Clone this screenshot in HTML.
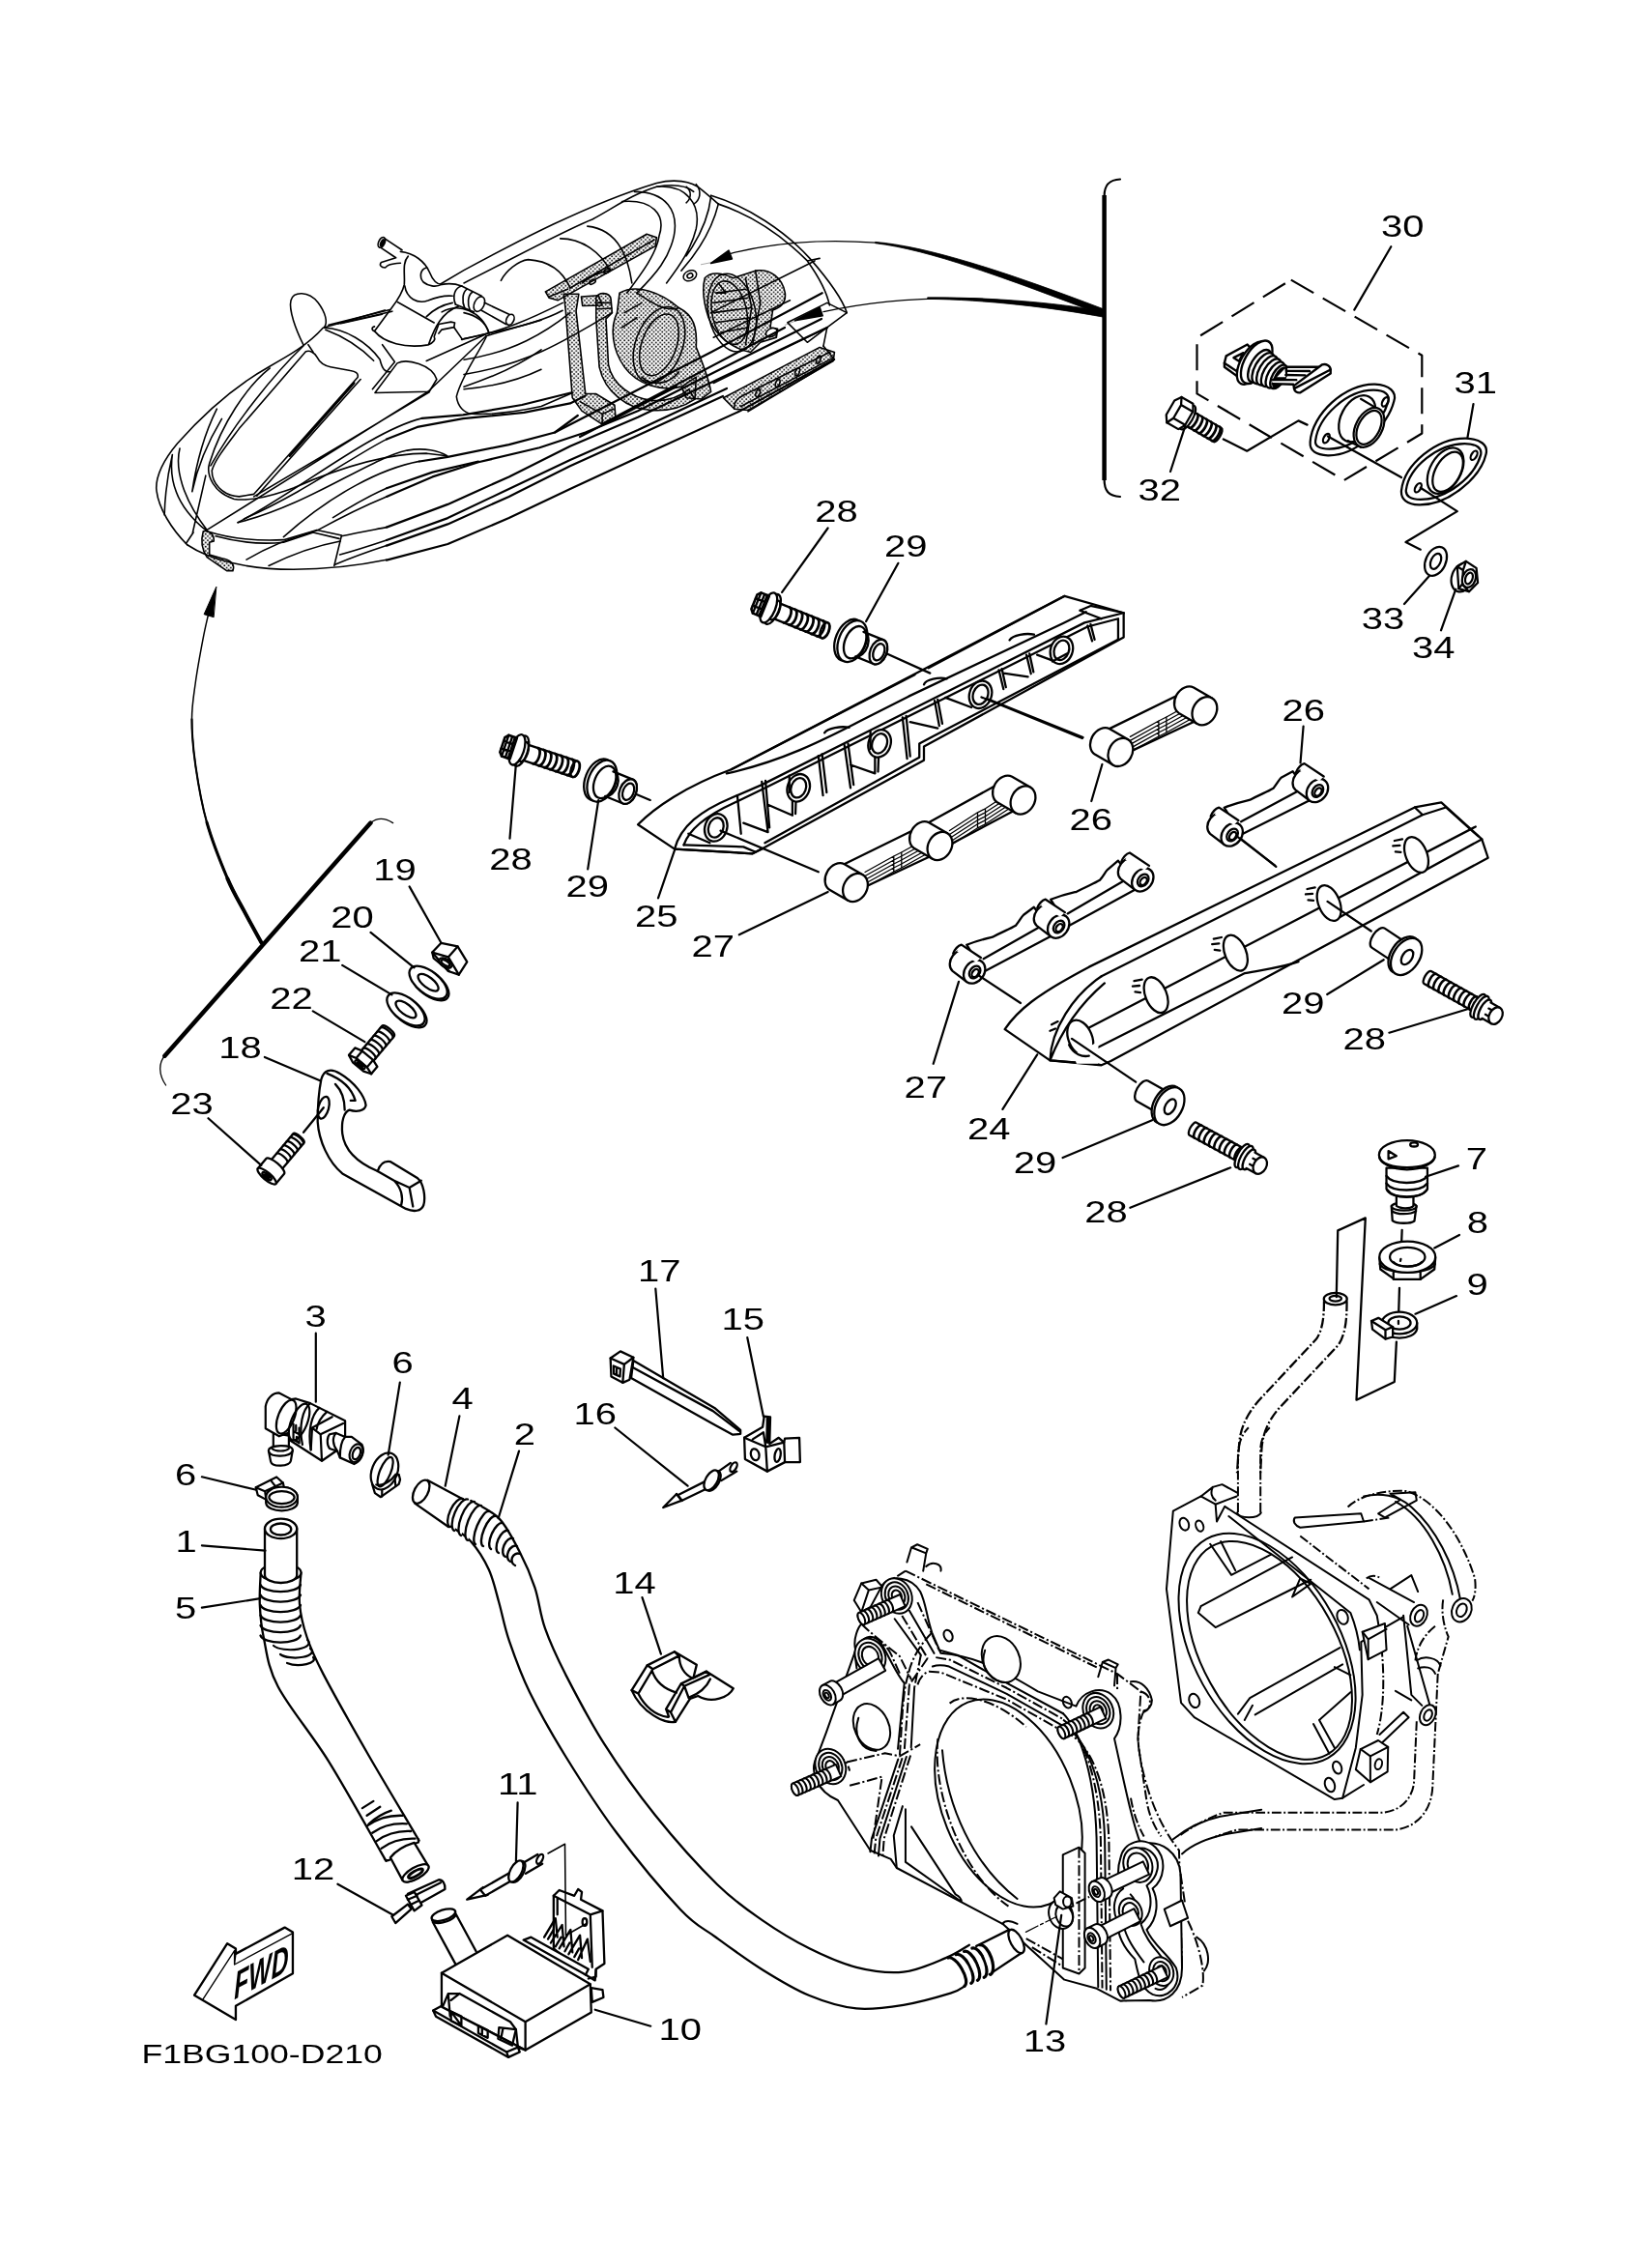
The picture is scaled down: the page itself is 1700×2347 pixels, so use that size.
<!DOCTYPE html>
<html><head><meta charset="utf-8"><title>F1BG100-D210</title>
<style>
html,body{margin:0;padding:0;background:#fff}
svg{display:block;filter:grayscale(1)}
svg text{font-family:"Liberation Sans",sans-serif;fill:#000;stroke:none}
.l{stroke-width:2.2}
.t{stroke-width:1.3}
.k{stroke-width:4.5}
.f{fill:#fff}
.b{fill:#000}
</style></head><body>
<svg width="1700" height="2347" viewBox="0 0 1700 2347" fill="none" stroke="#000" stroke-width="2.3" stroke-linecap="round" stroke-linejoin="round">
<rect x="0" y="0" width="1700" height="2347" fill="#fff" stroke="none"/>
<!-- watercraft front; zoom origin (140,280) scale 3.912 -->
<pattern id="dots" patternUnits="userSpaceOnUse" width="17" height="17"><rect x="1" y="1" width="6.3" height="6.3" fill="#000" stroke="none"/><rect x="9.5" y="9.5" width="6.3" height="6.3" fill="#000" stroke="none"/></pattern>
<g transform="translate(140,280) scale(0.25563)" stroke-width="6.2">
 <!-- bow outline -->
 <path d="M210,1110 C150,1050 90,960 85,880 C85,820 120,760 170,700 C250,610 380,480 540,390 C620,345 700,300 760,232 L1010,160"/>
 <path d="M118,990 C120,900 130,830 150,745 M150,745 C135,850 170,960 290,1055 M180,720 C160,800 190,920 290,1050 M205,1105 L235,1060 M285,830 L232,1062"/>
 <path d="M330,560 C290,640 250,760 230,895 C250,800 290,700 350,600"/>
 <path d="M545,395 C450,470 350,620 300,780 C285,830 320,900 400,925 C470,935 560,910 640,880 C800,810 1000,740 1180,740 L1262,750"/>
 <path d="M690,328 L420,640 C360,720 320,770 310,810 C310,860 350,910 420,915 L480,905 L900,432 C905,415 890,408 870,405 L790,390 C760,385 745,370 735,350 C725,330 705,322 690,328 Z"/>
 <path d="M680,305 C560,420 400,620 305,790 M700,300 L720,330 M912,440 L492,912" />
 <path stroke-width="10" d="M885,455 L625,750"/>
 <path d="M1420,265 L1185,490 L290,1050 M1190,492 L860,690 L480,915"/>
 <!-- mirror -->
 <path d="M680,300 C650,240 620,160 630,120 C640,85 700,80 740,130 C770,170 780,210 765,230"/>
 <!-- console -->
 <path d="M765,232 C850,235 940,290 990,360 C1000,400 1010,410 1030,410 M770,240 C850,270 920,320 965,365 M820,215 L1040,165 M1000,300 L1050,370 L960,480"/>
 <path d="M970,495 L1060,375 C1100,355 1200,380 1220,440 L1190,490 Z"/>
 <!-- spike / seat front -->
 <path d="M1420,270 C1380,350 1320,430 1300,510 C1305,550 1330,575 1360,580 C1450,585 1550,570 1643,550 L1772,494 M1330,470 C1450,430 1560,380 1643,320 M1330,480 C1450,470 1560,440 1643,400 M1420,265 L1643,200"/>
 <!-- sweeping body curves -->
 <path d="M415,1020 C650,900 950,650 1160,598"/>
 <path d="M440,1005 C680,900 900,740 1017,683"/>
 <path d="M415,1020 C700,950 950,760 1100,728 C1170,715 1230,730 1262,750"/>
 <path d="M600,1078 C800,900 1000,800 1150,772"/>
 <path d="M740,1050 C830,1000 920,955 1017,915 M800,1000 C880,950 950,910 1017,881"/>
 <path d="M835,1075 C900,1060 960,1050 1017,1039 M828,1150 C900,1130 960,1110 1017,1091 M808,1190 C880,1160 950,1135 1017,1113"/>
 <path d="M290,1055 C400,1090 500,1095 600,1090 L735,1050 L835,1072 L805,1195 M325,1075 C450,1110 550,1105 600,1100 L720,1060 L825,1085"/>
 <path d="M210,1110 C300,1170 450,1210 640,1210 C780,1210 900,1195 1017,1171"/>
 <path d="M450,1170 C550,1110 650,1075 735,1052 M540,1195 C650,1140 750,1110 830,1095"/>
 <!-- tow hook stipple -->
 <path fill="url(#dots)" d="M275,1055 C300,1050 320,1070 318,1095 L300,1100 L300,1150 L350,1165 C385,1170 405,1190 395,1215 L370,1215 L290,1160 C270,1130 265,1090 275,1055 Z"/>
</g>

<!-- watercraft rear; zoom origin (480,160) scale 3.912 -->
<g transform="translate(480,160) scale(0.25563)" stroke-width="6.2">
 <!-- deck outlines -->
 <path d="M-95,524 L0,468 C200,360 500,200 780,115 C850,98 920,105 960,140 C990,165 1020,190 1030,200"/>
 <path d="M0,520 C200,420 400,310 520,262 C600,220 680,160 780,130 C850,118 900,125 930,150"/>
 <path d="M1000,165 C1150,210 1300,310 1400,420 C1470,500 1530,580 1550,640 L1470,700 L1455,775"/>
 <path d="M1030,200 C1180,250 1300,340 1390,430 L1440,420 M1390,430 C1440,500 1470,560 1480,610"/>
 <path d="M940,120 C965,150 955,185 930,200 M900,130 C925,150 918,180 900,195"/>
 <!-- seat humps -->
 <path d="M150,510 C170,470 220,430 260,425 C340,430 400,470 430,540 M390,340 C480,340 560,400 590,470 M500,290 C600,300 660,380 680,520 M640,190 C760,180 820,240 790,330 C780,400 720,480 660,560 M690,150 C820,150 870,230 850,330 C830,420 780,480 700,560 M780,130 C900,120 960,200 940,300 C920,380 880,440 820,520 M1030,200 C1010,280 960,380 880,470 M1000,170 C990,260 950,340 900,410"/>
 <!-- deck lines left -->
 <path d="M0,745 C150,720 280,660 400,600 M0,830 C200,800 330,720 430,640 M0,890 C250,850 400,760 600,640 M0,640 C50,650 90,680 100,720"/>
 <path d="M1010,925 L1470,700 M1150,1040 L1500,830 L1455,775 M1000,640 L1420,430 M1010,740 L1320,590"/>
 <!-- rear box + arrows -->
 <path d="M1310,680 L1470,600 L1550,640 M1310,680 L1390,760 L1470,700"/>
 <path class="b" d="M1000,440 L1072,388 L1085,422 Z M1340,672 L1440,618 L1452,652 Z"/>
 <path class="t" d="M960,445 L1010,435 M1300,690 L1345,672"/>
 <!-- stippled parts -->
 <g fill="url(#dots)">
  <path d="M330,555 L740,322 L780,335 L775,370 L380,590 L345,580 Z"/>
  <path d="M404,564 L465,564 L454,633 L492,968 L534,968 L610,1014 L614,1064 L557,1090 L477,1037 L439,984 L412,633 Z"/>
  <path d="M475,575 L545,570 L560,610 L480,612 Z"/>
  <path d="M535,580 C540,555 590,555 595,585 L600,640 L575,665 L585,850 C600,930 680,985 760,995 C830,1000 880,975 910,950 L935,990 C890,1020 830,1040 760,1035 C660,1030 570,960 548,860 L535,665 Z"/>
  <path d="M630,560 C700,520 800,560 870,620 C930,650 945,700 940,780 C960,830 990,900 1000,960 L960,990 L900,985 L880,940 C800,960 700,930 650,860 C600,790 590,700 620,640 Z"/>
  <path d="M975,500 C1000,470 1050,480 1090,500 L1180,470 C1240,460 1290,500 1300,560 C1305,600 1280,620 1250,630 L1240,700 L1270,705 L1265,740 L1200,760 L1160,800 C1100,790 1020,740 990,660 C970,600 965,540 975,500 Z"/>
  <path d="M1050,985 L1440,780 L1500,800 L1495,835 L1150,1035 L1095,1030 Z"/>
 </g>
 <!-- details over stipple -->
 <path d="M430,540 L770,345 M345,575 L420,545 M480,520 C500,500 560,470 590,470"/>
 <ellipse cx="580" cy="470" rx="14" ry="8" transform="rotate(-30 580 470)"/>
 <ellipse cx="520" cy="515" rx="14" ry="8" transform="rotate(-30 520 515)"/>
 <path d="M540,600 L595,600 M540,625 L598,622"/>
 <ellipse cx="790" cy="770" rx="70" ry="130" transform="rotate(20 790 770)"/>
 <ellipse cx="790" cy="770" rx="95" ry="160" transform="rotate(20 790 770)"/>
 <path d="M700,560 C760,600 820,640 870,620 M650,640 L720,600 M640,700 L700,660 M880,940 L940,900 L935,990 M720,900 C760,940 830,930 870,880"/>
 <ellipse cx="1085" cy="640" rx="95" ry="160" transform="rotate(-12 1085 640)"/>
 <ellipse cx="1075" cy="640" rx="70" ry="130" transform="rotate(-12 1075 640)"/>
 <path d="M1020,560 L1140,545 M1010,600 L1150,580 M1010,640 L1160,620 M1020,680 L1160,660 M1040,720 L1150,700 M1030,520 L1060,560 L1030,560 M1180,470 L1200,600 L1170,760 M1140,500 L1165,620 L1140,770"/>
 <ellipse cx="915" cy="490" rx="28" ry="20" transform="rotate(-25 915 490)" class="f"/>
 <ellipse cx="915" cy="490" rx="12" ry="9" transform="rotate(-25 915 490)"/>
 <ellipse cx="1245" cy="720" rx="24" ry="16" transform="rotate(-25 1245 720)" class="f"/>
 <ellipse cx="1190" cy="965" rx="8" ry="16" transform="rotate(20 1190 965)"/>
 <ellipse cx="1270" cy="925" rx="8" ry="16" transform="rotate(20 1270 925)"/>
 <ellipse cx="1350" cy="880" rx="8" ry="16" transform="rotate(20 1350 880)"/>
 <ellipse cx="1435" cy="830" rx="8" ry="16" transform="rotate(20 1435 830)"/>
 <path d="M1095,1030 C1090,1000 1110,985 1130,975 L1480,800 M1120,1020 L1490,825"/>
 <path d="M470,1000 L560,1050 L605,1030 M560,1050 L560,1085"/>
</g>
<!-- callout curves to bracket -->
<path class="t" d="M755.3,262.6 C800,251 850,247 906,251.1 C960,256 1040,284 1141,322.7 M852,322.7 C900,312 950,308.3 995.6,308.6 C1050,310 1100,317 1141,325.3"/>
<g fill="#000" stroke-width="0.8">
<path d="M906,250.4 C960,255 1040,281 1141,319.5 L1141,326 C1040,287.5 960,258 906,251.8 Z"/>
<path d="M960,307.8 C1020,307.6 1090,312.5 1141,322 L1141,328 C1090,318.5 1020,310 960,309.4 Z"/>
</g>

<!-- long hull lines in source coords -->
<g class="l">
<path d="M400,579.6 L463.3,563 L526.6,536.1 L589.9,506 L660,473.6 L765.2,425.6 L863,372"/>
<path d="M400,564.6 L463.3,542.4 L526.6,513.9 L589.9,482.3 L660,450.6 L748,410"/>
<path d="M400,559 L463.3,536.1 L526.6,506 L589.9,476 L660,445.1 L752,402"/>
<path d="M400,545.6 L463.3,521.9 L526.6,493.4 L589.9,461.7 L660,431.7 L855.8,338.9"/>
<path d="M400,513.9 L447.5,493.4 L495,478.3 L558.3,463.3 L605.7,447.5 L660,425.3 L735.6,387 L850,330"/>
<path d="M400,505.2 L447.5,488.6 L495,477.5"/>
<path d="M434,477.5 L463.3,472.8 L526.6,460.1 L574.1,447.5 L597.8,430"/>
<path d="M400,454.6 L431.7,441.9 L479.1,433.2 L542.4,426.9 L589.9,417.4 L605.7,409.5"/>
<path d="M436.5,432.9 L479.1,429.3 L540,419 L591.5,406.3"/>
<path d="M574,447.5 L735.6,364.5 L850.7,303.2 M623,438.6 L812,339 M600,452 L700,400"/>
</g>

<!-- handlebar; zoom origin (340,220) scale 6.319 -->
<g transform="translate(340,220) scale(0.15825)" stroke-width="10.5">
 <path d="M360,165 L480,245 M335,225 L440,295 L345,325 C330,340 340,360 370,360 C385,345 395,335 470,330"/>
 <ellipse cx="347" cy="195" rx="20" ry="36" transform="rotate(25 347 195)" class="f"/>
 <ellipse cx="352" cy="198" rx="10" ry="24" transform="rotate(25 352 198)" class="b"/>
 <path d="M470,255 C560,265 630,320 660,390 C680,440 710,470 740,470 C790,460 830,465 870,480"/>
 <path d="M520,285 C480,330 500,400 495,470 C480,540 430,600 400,640 L300,775 C280,770 280,750 300,745"/>
 <path d="M640,360 C600,370 590,420 620,455 C650,480 700,490 740,470"/>
 <path d="M498,480 C510,560 580,600 650,575 C700,555 760,540 810,545"/>
 <path d="M450,585 L690,720 M300,775 C360,850 500,890 650,865 C690,850 700,830 690,810 L720,730 L800,715 L825,720 L820,750 L740,765 L720,790"/>
 <path d="M655,860 C690,760 740,650 850,612 M640,680 C700,620 760,600 810,590"/>
 <path d="M870,480 L1000,545 M830,600 L950,650" />
 <path d="M870,480 C830,490 805,540 830,600 M905,500 C875,520 870,580 890,625 M940,520 C910,540 905,600 925,640"/>
 <ellipse cx="985" cy="598" rx="32" ry="52" transform="rotate(25 985 598)" class="f"/>
 <path d="M1020,590 L1190,670 M1000,640 L1160,730"/>
 <ellipse cx="1187" cy="700" rx="24" ry="36" transform="rotate(25 1187 700)" class="f"/>
 <path d="M740,650 C850,590 1000,640 1050,790 M820,750 L875,830"/>
 <path d="M0,735 L400,635 M80,725 L350,665 M870,830 L1040,790 C1250,750 1420,700 1530,640 M640,970 L1040,790"/>
</g>

<!-- top-right assembly; coords from zoom origin (1100,170) scale 3.286 -->
<path class="k" stroke-linecap="butt" d="M1142.6,202 L1142.6,497"/>
<path class="l" d="M1159,185.5 C1147,186 1142.6,192 1142.6,203 M1142.6,496 C1142.6,508 1147,513.5 1159,514"/>
<path d="M1335.8,289.6 L1471.3,367.8 L1471.3,448.5 L1390.6,497 L1238.5,407.4 L1238.5,349.5 Z" stroke-dasharray="27 11" stroke-linecap="butt" class="l"/>
<g transform="translate(1100,170) scale(0.30432)" stroke-width="7.4">
 <!-- bolt 32 -->
 <g transform="translate(395,845) rotate(30)">
  <path class="f" d="M30,-27 L150,-27 A10,27 0 0 1 150,27 L30,27 Z"/>
  <path stroke-width="9" d="M55,-27 A10,27 0 0 1 55,27 M73,-27 A10,27 0 0 1 73,27 M91,-27 A10,27 0 0 1 91,27 M109,-27 A10,27 0 0 1 109,27 M127,-27 A10,27 0 0 1 127,27 M143,-27 A10,27 0 0 1 143,27"/>
  <ellipse cx="32" cy="0" rx="18" ry="46" class="f"/>
  <path class="f" d="M-35,-28 L-20,-50 L25,-50 L38,-28 L38,28 L25,50 L-20,50 L-35,28 Z"/>
  <path d="M-20,-50 L-8,-26 L-8,26 L-20,50 M-8,-26 L38,-26 M-8,26 L38,26"/>
 </g>
 <path d="M545,935 L625,975 L800,872 L830,886"/>
 <!-- flange -->
 <path class="f" d="M840,945 C845,850 960,745 1060,748 C1110,750 1135,775 1125,805 C1105,885 1000,992 900,990 C860,988 838,975 840,945 Z"/>
 <path d="M858,940 C868,858 965,768 1055,768 C1095,768 1112,785 1105,808 C1085,880 995,968 905,968 C872,968 855,958 858,940 Z"/>
 <ellipse cx="1000" cy="865" rx="55" ry="85" transform="rotate(28 1000 865)"/>
 <path class="f" d="M995,940 L1040,965 L1085,850 L1045,822 Z" stroke="none"/>
 <ellipse cx="1040" cy="895" rx="45" ry="72" transform="rotate(28 1040 895)" class="f"/>
 <ellipse cx="1040" cy="895" rx="36" ry="62" transform="rotate(28 1040 895)"/>
 <path d="M1012,798 L1060,826 M968,940 L1012,962"/>
 <ellipse cx="895" cy="932" rx="9" ry="17" transform="rotate(28 895 932)"/>
 <ellipse cx="1095" cy="808" rx="9" ry="17" transform="rotate(28 1095 808)"/>
 <path d="M900,925 L1150,1065"/>
 <!-- gasket 31 -->
 <path class="f" d="M1150,1110 C1160,1020 1270,930 1370,932 C1420,934 1445,955 1438,985 C1420,1065 1310,1160 1210,1158 C1170,1156 1148,1140 1150,1110 Z"/>
 <path d="M1166,1108 C1176,1030 1275,950 1365,950 C1405,950 1425,965 1420,988 C1400,1060 1305,1140 1215,1140 C1182,1140 1164,1128 1166,1108 Z"/>
 <ellipse cx="1300" cy="1042" rx="52" ry="85" transform="rotate(30 1300 1042)"/>
 <ellipse cx="1308" cy="1046" rx="42" ry="74" transform="rotate(30 1308 1046)"/>
 <ellipse cx="1207" cy="1100" rx="9" ry="17" transform="rotate(30 1207 1100)"/>
 <ellipse cx="1397" cy="990" rx="9" ry="17" transform="rotate(30 1397 990)"/>
 <path d="M1215,1100 L1340,1180 L1165,1285 L1215,1310"/>
 <!-- washer 33 -->
 <ellipse cx="1267" cy="1350" rx="34" ry="52" transform="rotate(25 1267 1350)" class="f"/>
 <ellipse cx="1267" cy="1350" rx="16" ry="28" transform="rotate(25 1267 1350)"/>
 <!-- nut 34 -->
 <g transform="translate(1365,1408)">
  <ellipse cx="-8" cy="0" rx="36" ry="50" transform="rotate(20)" class="f"/>
  <path class="f" d="M-25,-40 L5,-58 L40,-35 L45,15 L15,45 L-20,35 Z"/>
  <path d="M-25,-40 L-5,-28 L5,-58 M-5,-28 L-8,20 L-20,35 M-8,20 L15,45"/>
  <ellipse cx="15" cy="0" rx="22" ry="32" transform="rotate(20 15 0)" class="f"/>
  <ellipse cx="15" cy="0" rx="12" ry="20" transform="rotate(20 15 0)"/>
 </g>
</g>

<!-- drain plug; zoom origin (1250,330) scale 10.953 -->
<g transform="translate(1250,330) scale(0.0913)" stroke-width="26">
 <path class="f" d="M185,500 L205,420 L445,290 L480,330 L350,560 L330,650 L185,545 Z"/>
 <path d="M290,440 L400,385 L350,480 Z M185,500 L320,590 L350,560"/>
 <ellipse cx="505" cy="500" rx="135" ry="270" transform="rotate(30 505 500)" class="f"/>
 <ellipse cx="550" cy="490" rx="135" ry="270" transform="rotate(30 550 490)" class="f"/>
 <ellipse cx="585" cy="535" rx="100" ry="205" transform="rotate(30 585 535)" class="f"/>
 <ellipse cx="625" cy="560" rx="95" ry="195" transform="rotate(30 625 560)" class="f"/>
 <ellipse cx="670" cy="585" rx="90" ry="185" transform="rotate(30 670 585)" class="f"/>
 <ellipse cx="715" cy="610" rx="85" ry="175" transform="rotate(30 715 610)" class="f"/>
 <ellipse cx="760" cy="635" rx="80" ry="165" transform="rotate(30 760 635)" class="f"/>
 <ellipse cx="800" cy="655" rx="70" ry="150" transform="rotate(30 800 655)" class="f"/>
 <ellipse cx="815" cy="665" rx="52" ry="125" transform="rotate(30 815 665)" fill="#000"/>
 <path class="f" stroke="none" d="M780,660 L870,565 L880,660 Z"/>
 <path class="f" d="M900,545 L1260,545 L1000,700 L730,690 L730,735 L960,745 L975,775 L900,640 Z" stroke="none"/>
 <path d="M900,545 L1250,545 M895,590 L1150,592 M880,635 L1100,640 M735,690 L1000,692 M730,735 L965,742"/>
 <path class="f" d="M1290,520 C1340,505 1385,530 1388,575 L1388,620 L1045,835 C1010,840 980,825 975,790 L970,760 Z"/>
 <path d="M975,790 L1388,575"/>
</g>

<!-- rail 25; coords zoom origin (630,570) scale 3.1596 -->
<g transform="translate(630,570) scale(0.31649)" stroke-width="7.2">
 <!-- body fill -->
 <path class="f" d="M95,895 C150,840 250,770 400,715 L1490,148 L1683,203 L1683,283 L1030,640 L1030,685 L500,975 L470,990 L215,975 Z"/>
 <!-- crease on top face -->
 <path d="M385,728 C560,690 700,620 830,552 L980,476 L1485,237 L1560,200"/>
 <path d="M400,715 L1000,405 M1045,383 L1490,148"/>
 <!-- tabs -->
 <path d="M705,595 C715,580 760,572 785,578 M1030,437 C1035,420 1080,412 1105,418 M1310,292 C1320,275 1365,268 1390,274 M1180,880 "/>
 <!-- front-top edge (double) -->
 <path d="M215,975 C235,900 300,850 400,808 L500,765 L1555,235 L1683,203"/>
 <path d="M245,962 C262,910 320,865 410,824 L510,776 L1565,248 L1665,222 L1665,290"/>
 <path d="M1540,195 L1575,180 L1683,203 M1540,195 L1610,222"/>
 <!-- bottom edge (double) -->
 <path d="M510,955 L1015,675 L1015,630 L1665,290"/>
 <path d="M215,975 L470,990 L500,975 M245,962 L440,968 L480,985"/>
 <path d="M260,925 L330,955"/>
 <!-- ribs -->
 <path d="M420,800 L432,925 M500,755 L520,920 M512,752 L525,905 M440,890 L520,920
  M685,670 L700,800 M697,665 L712,790 M770,635 L790,775 M782,630 L800,765
  M520,830 L600,865 L600,800 M610,860 L612,800
  M790,700 L870,728 L870,670 M880,722 L882,668
  M960,545 L975,680 M972,540 L985,672 M1065,490 L1080,572 M1075,486 L1090,565
  M985,560 L1075,580 M1100,480 L1185,512
  M1275,390 L1290,452 M1285,386 L1298,446 M1365,340 L1380,402 M1375,336 L1388,396
  M1290,400 L1370,412 M1400,340 L1460,362
  M1565,245 L1580,295 M1575,240 L1588,290"/>
 <!-- bosses -->
 <g class="f">
 <ellipse cx="350" cy="905" rx="36" ry="46" transform="rotate(20 350 905)"/>
 <ellipse cx="620" cy="775" rx="36" ry="46" transform="rotate(20 620 775)"/>
 <ellipse cx="885" cy="630" rx="36" ry="46" transform="rotate(20 885 630)"/>
 <ellipse cx="1215" cy="470" rx="36" ry="46" transform="rotate(20 1215 470)"/>
 <ellipse cx="1480" cy="325" rx="36" ry="46" transform="rotate(20 1480 325)"/>
 </g>
 <ellipse cx="350" cy="905" rx="24" ry="33" transform="rotate(20 350 905)"/>
 <ellipse cx="620" cy="775" rx="24" ry="33" transform="rotate(20 620 775)"/>
 <ellipse cx="885" cy="630" rx="24" ry="33" transform="rotate(20 885 630)"/>
 <ellipse cx="1215" cy="470" rx="24" ry="33" transform="rotate(20 1215 470)"/>
 <ellipse cx="1480" cy="325" rx="24" ry="33" transform="rotate(20 1480 325)"/>
 <path d="M590,735 L590,790 M855,590 L855,648 M1450,362 L1500,335"/>
 <!-- leader lines from bosses -->
 <path d="M895,330 L1050,400 M1240,485 L1550,610 M365,915 L685,1050 M75,790 L135,815"/>
</g>

<!-- rail 24; zoom origin (1030,820) scale 3.1 -->
<g transform="translate(1030,820) scale(0.32258)" stroke-width="7.1">
 <path class="f" d="M30,760 C70,700 130,650 300,560 L1345,48 L1430,32 L1560,150 L1580,210 L370,862 L340,875 L175,860 Z"/>
 <path d="M340,590 L1370,72 L1445,48 M1345,48 L1370,72 M1445,48 L1548,140"/>
 <path d="M300,755 L1540,110"/>
 <path d="M320,822 L800,580 C860,568 920,562 972,543"/>
 <path d="M1105,400 L1560,150"/>
 <path d="M175,860 C178,760 250,650 340,590 M175,860 C210,770 270,680 350,612 M178,860 L330,872"/>
 <ellipse cx="272" cy="788" rx="38" ry="60" transform="rotate(-22 272 788)" class="f"/>
 <path class="f" stroke="none" d="M250,840 L330,800 L330,870 L260,870 Z"/>
 <path d="M236,810 C250,840 280,850 300,845"/>
 <g class="f">
 <ellipse cx="515" cy="650" rx="34" ry="60" transform="rotate(-22 515 650)"/>
 <ellipse cx="770" cy="515" rx="34" ry="60" transform="rotate(-22 770 515)"/>
 <ellipse cx="1070" cy="355" rx="34" ry="60" transform="rotate(-22 1070 355)"/>
 <ellipse cx="1350" cy="200" rx="34" ry="60" transform="rotate(-22 1350 200)"/>
 </g>
 <path d="M445,605 L470,600 M440,622 L462,620 M448,640 L465,642 M700,470 L725,465 M695,487 L717,485 M703,505 L720,507 M1000,310 L1025,305 M995,327 L1017,325 M1003,345 L1020,347 M1280,155 L1305,150 M1275,172 L1297,170 M1283,190 L1300,192 M180,745 L200,735 M175,765 L192,758"/>
 <path d="M1065,350 L1205,445 M245,790 L450,929 M770,135 L900,238"/>
</g>

<g transform="translate(779.5,622.5) rotate(22.0)">
<path class="f" d="M22,-8.5 L80.1,-8.5 A4,8.5 0 0 1 80.1,8.5 L22,8.5 Z"/>
<ellipse cx="79.6" cy="0" rx="4" ry="8.5" class="f"/>
<path stroke-width="2.8" d="M37.0,-8.5 A4,8.5 0 0 1 37.0,8.5M43.2,-8.5 A4,8.5 0 0 1 43.2,8.5M49.4,-8.5 A4,8.5 0 0 1 49.4,8.5M55.6,-8.5 A4,8.5 0 0 1 55.6,8.5M61.8,-8.5 A4,8.5 0 0 1 61.8,8.5M68.0,-8.5 A4,8.5 0 0 1 68.0,8.5M74.2,-8.5 A4,8.5 0 0 1 74.2,8.5"/>
<ellipse cx="21" cy="0" rx="7" ry="16.4" class="f"/>
<ellipse cx="24" cy="0" rx="4.5" ry="10.5"/>
<ellipse cx="17" cy="0" rx="7" ry="16.4" class="f"/>
<path class="f" stroke-width="2.6" d="M1,-8 L4,-11.5 L13,-11.5 L13,11.5 L4,11.5 L1,8 Z"/>
<path stroke-width="2.4" d="M4,-11.5 L4,11.5 M1,-4 L11,-4 M1,4 L11,4 M8,-11 L8,11 M11,-11.5 L11,11.5"/>
</g>
<g transform="translate(518.9,770.4) rotate(18.5)">
<path class="f" d="M22,-8.5 L80.7,-8.5 A4,8.5 0 0 1 80.7,8.5 L22,8.5 Z"/>
<ellipse cx="80.2" cy="0" rx="4" ry="8.5" class="f"/>
<path stroke-width="2.8" d="M37.0,-8.5 A4,8.5 0 0 1 37.0,8.5M43.2,-8.5 A4,8.5 0 0 1 43.2,8.5M49.4,-8.5 A4,8.5 0 0 1 49.4,8.5M55.6,-8.5 A4,8.5 0 0 1 55.6,8.5M61.8,-8.5 A4,8.5 0 0 1 61.8,8.5M68.0,-8.5 A4,8.5 0 0 1 68.0,8.5M74.2,-8.5 A4,8.5 0 0 1 74.2,8.5"/>
<ellipse cx="21" cy="0" rx="7" ry="16.4" class="f"/>
<ellipse cx="24" cy="0" rx="4.5" ry="10.5"/>
<ellipse cx="17" cy="0" rx="7" ry="16.4" class="f"/>
<path class="f" stroke-width="2.6" d="M1,-8 L4,-11.5 L13,-11.5 L13,11.5 L4,11.5 L1,8 Z"/>
<path stroke-width="2.4" d="M4,-11.5 L4,11.5 M1,-4 L11,-4 M1,4 L11,4 M8,-11 L8,11 M11,-11.5 L11,11.5"/>
</g>
<g transform="translate(1231.7,1166.8) rotate(28.6)">
<path class="f" d="M3,-7.5 L62.1,-7.5 L62.1,7.5 L3,7.5 A3,7.5 0 0 1 3,-7.5 Z"/>
<path stroke-width="2.6" d="M9.0,-7.5 A3,7.5 0 0 0 9.0,7.5M15.0,-7.5 A3,7.5 0 0 0 15.0,7.5M21.0,-7.5 A3,7.5 0 0 0 21.0,7.5M27.0,-7.5 A3,7.5 0 0 0 27.0,7.5M33.0,-7.5 A3,7.5 0 0 0 33.0,7.5M39.0,-7.5 A3,7.5 0 0 0 39.0,7.5M45.0,-7.5 A3,7.5 0 0 0 45.0,7.5M51.0,-7.5 A3,7.5 0 0 0 51.0,7.5M57.0,-7.5 A3,7.5 0 0 0 57.0,7.5"/>
<ellipse cx="61.1" cy="0" rx="5" ry="13.5" class="f"/>
<ellipse cx="65.1" cy="0" rx="5" ry="13.5" class="f"/>
<ellipse cx="69.1" cy="0" rx="4.5" ry="11.5" class="f" stroke-width="2.4"/>
<path class="f" d="M70.1,-9.3 L82.1,-9.3 L82.1,9.3 L70.1,9.3 Z" stroke="none"/>
<path d="M71.1,-9.3 L82.1,-9.3 M71.1,9.3 L82.1,9.3 M72.1,-3 L77.1,-3 M72.1,4 L77.1,4"/>
<ellipse cx="82.1" cy="0" rx="6.5" ry="9.3" class="f"/>
</g>
<g transform="translate(1474.5,1010.1) rotate(29.3)">
<path class="f" d="M3,-7.5 L63.8,-7.5 L63.8,7.5 L3,7.5 A3,7.5 0 0 1 3,-7.5 Z"/>
<path stroke-width="2.6" d="M9.0,-7.5 A3,7.5 0 0 0 9.0,7.5M15.0,-7.5 A3,7.5 0 0 0 15.0,7.5M21.0,-7.5 A3,7.5 0 0 0 21.0,7.5M27.0,-7.5 A3,7.5 0 0 0 27.0,7.5M33.0,-7.5 A3,7.5 0 0 0 33.0,7.5M39.0,-7.5 A3,7.5 0 0 0 39.0,7.5M45.0,-7.5 A3,7.5 0 0 0 45.0,7.5M51.0,-7.5 A3,7.5 0 0 0 51.0,7.5M57.0,-7.5 A3,7.5 0 0 0 57.0,7.5"/>
<ellipse cx="62.8" cy="0" rx="5" ry="13.5" class="f"/>
<ellipse cx="66.8" cy="0" rx="5" ry="13.5" class="f"/>
<ellipse cx="70.8" cy="0" rx="4.5" ry="11.5" class="f" stroke-width="2.4"/>
<path class="f" d="M71.8,-9.3 L83.8,-9.3 L83.8,9.3 L71.8,9.3 Z" stroke="none"/>
<path d="M72.8,-9.3 L83.8,-9.3 M72.8,9.3 L83.8,9.3 M73.8,-3 L78.8,-3 M73.8,4 L78.8,4"/>
<ellipse cx="83.8" cy="0" rx="6.5" ry="9.3" class="f"/>
</g>
<g transform="translate(881.9,663.6) rotate(22.2)">
<ellipse cx="-3.5" cy="0" rx="14" ry="22.5" class="f"/>
<ellipse cx="0" cy="0" rx="14" ry="22.5" class="f"/>
<ellipse cx="3" cy="0" rx="10.5" ry="17.5"/>
<path class="f" d="M7,-13.4 L29.1,-13.4 A8.5,13.4 0 0 1 29.1,13.4 L9,13.4 A8.5,13.4 0 0 0 7,-13.4 Z"/>
<ellipse cx="29.1" cy="0" rx="8.5" ry="13.4" class="f"/>
<ellipse cx="29.6" cy="0" rx="5.5" ry="9"/>
</g>
<g transform="translate(622.9,808.2) rotate(22.1)">
<ellipse cx="-3.5" cy="0" rx="14" ry="22.5" class="f"/>
<ellipse cx="0" cy="0" rx="14" ry="22.5" class="f"/>
<ellipse cx="3" cy="0" rx="10.5" ry="17.5"/>
<path class="f" d="M7,-13.4 L28.9,-13.4 A8.5,13.4 0 0 1 28.9,13.4 L9,13.4 A8.5,13.4 0 0 0 7,-13.4 Z"/>
<ellipse cx="28.9" cy="0" rx="8.5" ry="13.4" class="f"/>
<ellipse cx="29.4" cy="0" rx="5.5" ry="9"/>
</g>
<g transform="translate(1182.0,1129.0) rotate(29.4)">
<path class="f" d="M0,-12 A6,12 0 0 0 0,12 L31.0,12 L31.0,-12 Z"/>
<ellipse cx="29.0" cy="0" rx="13.5" ry="21" class="f"/>
<ellipse cx="32.0" cy="0" rx="13.5" ry="21" class="f"/>
<ellipse cx="33.0" cy="0" rx="5" ry="8.5"/>
</g>
<g transform="translate(1426.0,970.6) rotate(33.6)">
<path class="f" d="M0,-12 A6,12 0 0 0 0,12 L34.0,12 L34.0,-12 Z"/>
<ellipse cx="32.0" cy="0" rx="13.5" ry="21" class="f"/>
<ellipse cx="35.0" cy="0" rx="13.5" ry="21" class="f"/>
<ellipse cx="36.0" cy="0" rx="5" ry="8.5"/>
</g>
<path class="f" d="M871.0,895.5 L958.5,852.5 L972.5,861.5 L972.5,881.5 L885.0,922.5 L885.0,904.5 Z"/>
<path class="t" d="M895.0,902.5 L924.8,886.0 L932.8,882.0 L962.5,865.5M895.0,906.5 L924.8,890.0 L932.8,886.0 L962.5,869.5M895.0,910.5 L924.8,894.0 L932.8,890.0 L962.5,873.5M895.0,914.5 L924.8,898.0 L932.8,894.0 L962.5,877.5M895.0,918.5 L924.8,902.0 L932.8,898.0 L962.5,881.5M924.8,886.0 L924.8,902.0 M932.8,882.0 L932.8,898.0"/>
<path class="f" d="M958.5,852.5 L1044.5,805.0 L1058.5,814.0 L1058.5,834.0 L972.5,879.5 L972.5,861.5 Z"/>
<path class="t" d="M982.5,859.5 L1011.5,840.8 L1019.5,836.8 L1048.5,818.0M982.5,863.5 L1011.5,844.8 L1019.5,840.8 L1048.5,822.0M982.5,867.5 L1011.5,848.8 L1019.5,844.8 L1048.5,826.0M982.5,871.5 L1011.5,852.8 L1019.5,848.8 L1048.5,830.0M982.5,875.5 L1011.5,856.8 L1019.5,852.8 L1048.5,834.0M1011.5,840.8 L1011.5,856.8 M1019.5,836.8 L1019.5,852.8"/>
<path class="f" d="M858.3,920.7 L877.3,931.7 L892.7,905.3 L873.7,894.3 A12,15.3 30.1 0 0 858.3,920.7 Z"/>
<ellipse cx="885.0" cy="918.5" rx="12" ry="15.3" transform="rotate(30.1 885.0 918.5)" class="f"/>
<path class="f" d="M945.8,877.7 L964.8,888.7 L980.2,862.3 L961.2,851.3 A12,15.3 30.1 0 0 945.8,877.7 Z"/>
<ellipse cx="972.5" cy="875.5" rx="12" ry="15.3" transform="rotate(30.1 972.5 875.5)" class="f"/>
<path class="f" d="M1031.8,830.2 L1050.8,841.2 L1066.2,814.8 L1047.2,803.8 A12,15.3 30.1 0 0 1031.8,830.2 Z"/>
<ellipse cx="1058.5" cy="828.0" rx="12" ry="15.3" transform="rotate(30.1 1058.5 828.0)" class="f"/>
<path class="f" d="M1145.4,755.4 L1232.4,712.7 L1246.4,721.7 L1246.4,741.7 L1159.4,782.4 L1159.4,764.4 Z"/>
<path class="t" d="M1169.4,762.4 L1198.9,746.0 L1206.9,742.0 L1236.4,725.7M1169.4,766.4 L1198.9,750.0 L1206.9,746.0 L1236.4,729.7M1169.4,770.4 L1198.9,754.0 L1206.9,750.0 L1236.4,733.7M1169.4,774.4 L1198.9,758.0 L1206.9,754.0 L1236.4,737.7M1169.4,778.4 L1198.9,762.0 L1206.9,758.0 L1236.4,741.7M1198.9,746.0 L1198.9,762.0 M1206.9,742.0 L1206.9,758.0"/>
<path class="f" d="M1132.7,780.6 L1151.7,791.6 L1167.1,765.2 L1148.1,754.2 A12,15.3 30.1 0 0 1132.7,780.6 Z"/>
<ellipse cx="1159.4" cy="778.4" rx="12" ry="15.3" transform="rotate(30.1 1159.4 778.4)" class="f"/>
<path class="f" d="M1219.7,737.9 L1238.7,748.9 L1254.1,722.5 L1235.1,711.5 A12,15.3 30.1 0 0 1219.7,737.9 Z"/>
<ellipse cx="1246.4" cy="735.7" rx="12" ry="15.3" transform="rotate(30.1 1246.4 735.7)" class="f"/>
<path class="f" d="M1000.2,977.7 C1013.2,972.7 1018.2,971.7 1026.9,969.7 C1038.2,963.7 1044.2,961.7 1051.0,957.7 C1055.2,952.7 1056.2,949.7 1059.1,946.7 L1069.8,938.8 L1091.2,966.8 L1017.6,1005.7 Z"/>
<path d="M1017.6,992.3 L1088.5,952.1"/>
<path class="f" d="M1087.2,930.8 C1100.2,925.8 1105.2,924.8 1113.9,922.8 C1125.2,916.8 1131.2,914.8 1138.0,910.8 C1142.2,905.8 1143.2,902.8 1146.1,899.8 L1156.9,890.6 L1178.3,918.6 L1104.6,958.8 Z"/>
<path d="M1104.6,945.4 L1175.6,903.9"/>
<path class="f" d="M985.6,1004.8 L1000.3,1016.0 L1016.1,995.4 L1001.4,984.2 A10,13 37.3 0 0 985.6,1004.8 Z"/>
<ellipse cx="1008.2" cy="1005.7" rx="10" ry="13" transform="rotate(37.3 1008.2 1005.7)" class="f"/>
<ellipse cx="1008.7" cy="1005.7" rx="5" ry="7" transform="rotate(37.3 1008.2 1005.7)"/>
<ellipse cx="1009.7" cy="1006.2" rx="3.0" ry="4.5" transform="rotate(37.3 1008.2 1005.7)"/>
<path class="f" d="M994.8,977.6 L1014.9,991.0 L1010.2,995.7 L990.2,984.7 Z" stroke="none"/>
<path d="M986.2,986.7 C988.2,981.7 991.2,978.7 994.8,977.6 L1014.9,991.0"/>
<path class="f" d="M1072.6,957.9 L1087.3,969.1 L1103.1,948.5 L1088.4,937.3 A10,13 37.3 0 0 1072.6,957.9 Z"/>
<ellipse cx="1095.2" cy="958.8" rx="10" ry="13" transform="rotate(37.3 1095.2 958.8)" class="f"/>
<ellipse cx="1095.7" cy="958.8" rx="5" ry="7" transform="rotate(37.3 1095.2 958.8)"/>
<ellipse cx="1096.7" cy="959.3" rx="3.0" ry="4.5" transform="rotate(37.3 1095.2 958.8)"/>
<path class="f" d="M1081.8,930.7 L1101.9,944.1 L1097.2,948.8 L1077.2,937.8 Z" stroke="none"/>
<path d="M1073.2,939.8 C1075.2,934.8 1078.2,931.8 1081.8,930.7 L1101.9,944.1"/>
<path class="f" d="M1159.7,909.7 L1174.4,920.9 L1190.2,900.3 L1175.5,889.1 A10,13 37.3 0 0 1159.7,909.7 Z"/>
<ellipse cx="1182.3" cy="910.6" rx="10" ry="13" transform="rotate(37.3 1182.3 910.6)" class="f"/>
<ellipse cx="1182.8" cy="910.6" rx="5" ry="7" transform="rotate(37.3 1182.3 910.6)"/>
<ellipse cx="1183.8" cy="911.1" rx="3.0" ry="4.5" transform="rotate(37.3 1182.3 910.6)"/>
<path class="f" d="M1168.9,882.5 L1189.0,895.9 L1184.3,900.6 L1164.3,889.6 Z" stroke="none"/>
<path d="M1160.3,891.6 C1162.3,886.6 1165.3,883.6 1168.9,882.5 L1189.0,895.9"/>
<path class="f" d="M1266.7,835.7 C1279.7,830.7 1284.7,829.7 1293.4,827.7 C1304.7,821.7 1310.7,819.7 1317.5,815.7 C1321.7,810.7 1322.7,807.7 1325.6,804.7 L1337.6,798.2 L1359.0,826.2 L1284.1,863.7 Z"/>
<path d="M1284.1,850.3 L1356.3,811.5"/>
<path class="f" d="M1252.1,862.8 L1266.8,874.0 L1282.6,853.4 L1267.9,842.2 A10,13 37.3 0 0 1252.1,862.8 Z"/>
<ellipse cx="1274.7" cy="863.7" rx="10" ry="13" transform="rotate(37.3 1274.7 863.7)" class="f"/>
<ellipse cx="1275.2" cy="863.7" rx="5" ry="7" transform="rotate(37.3 1274.7 863.7)"/>
<ellipse cx="1276.2" cy="864.2" rx="3.0" ry="4.5" transform="rotate(37.3 1274.7 863.7)"/>
<path class="f" d="M1261.3,835.6 L1281.4,849.0 L1276.7,853.7 L1256.7,842.7 Z" stroke="none"/>
<path d="M1252.7,844.7 C1254.7,839.7 1257.7,836.7 1261.3,835.6 L1281.4,849.0"/>
<path class="f" d="M1340.4,817.3 L1355.1,828.5 L1370.9,807.9 L1356.2,796.7 A10,13 37.3 0 0 1340.4,817.3 Z"/>
<ellipse cx="1363.0" cy="818.2" rx="10" ry="13" transform="rotate(37.3 1363.0 818.2)" class="f"/>
<ellipse cx="1363.5" cy="818.2" rx="5" ry="7" transform="rotate(37.3 1363.0 818.2)"/>
<ellipse cx="1364.5" cy="818.7" rx="3.0" ry="4.5" transform="rotate(37.3 1363.0 818.2)"/>
<path class="f" d="M1349.6,790.1 L1369.7,803.5 L1365.0,808.2 L1345.0,797.2 Z" stroke="none"/>
<path d="M1341.0,799.2 C1343.0,794.2 1346.0,791.2 1349.6,790.1 L1369.7,803.5"/>
<path class="l" d="M1012,1009 L1056,1038 M1279.7,865.4 L1319.2,895.5 M1015.4,721.4 L1119.8,764.1"/>
<!-- hook group; zoom origin (140,820) scale 4.1075 -->
<path class="k" stroke-width="4" d="M383.5,851.6 L170.4,1092.7"/>
<path class="t" d="M383.5,851.6 C390,846 398,846 406.6,851.6 M170.4,1092.7 C164,1100 164,1112 171.6,1123"/>
<path d="M270.3,975.2 C267.4,969.9 258.6,954.2 252.8,943.2 C247.0,932.2 241.9,924.6 235.4,909.2 C228.9,893.8 219.5,870.4 214.0,851.0 C208.5,831.6 205.0,810.6 202.4,792.8 C199.8,775.0 198.5,758.8 198.5,744.3 C198.5,729.8 200.5,719.4 202.4,705.5 C204.3,691.6 207.9,672.5 210.1,660.9 C212.3,649.3 214.6,640.1 215.5,636.0" stroke-width="1.5" stroke-linecap="butt"/>
<path d="M270.3,975.2 C267.4,969.9 258.6,954.2 252.8,943.2 C247.0,932.2 241.9,924.6 235.4,909.2 C228.9,893.8 219.5,870.4 214.0,851.0 C208.5,831.6 205.0,810.6 202.4,792.8 C199.8,775.0 198.5,758.8 198.5,744.3" stroke-width="2.1"/>
<path d="M270.3,975.2 C267.4,969.9 258.6,954.2 252.8,943.2 C247.0,932.2 241.9,924.6 235.4,909.2 C228.9,893.8 219.5,870.4 214.0,851.0" stroke-width="3"/>
<path d="M270.3,975.2 C267.4,969.9 258.6,954.2 252.8,943.2 C247.0,932.2 241.9,924.6 235.4,909.2" stroke-width="3.9"/>
<path class="b" stroke-width="1" d="M223.7,607.5 L211.1,635.7 L220.8,638.6 Z"/>
<g transform="translate(140,820) scale(0.24346)" stroke-width="9.4">
 <!-- nut 19 -->
 <path class="f" d="M1262,680 L1300,640 L1370,655 L1410,720 L1375,775 L1330,760 Z"/>
 <path d="M1262,680 L1330,700 L1370,655 M1330,700 L1375,775 M1262,680 L1268,705 L1335,760"/>
 <ellipse cx="1318" cy="725" rx="30" ry="17" transform="rotate(32 1318 725)" class="f"/>
 <ellipse cx="1318" cy="725" rx="20" ry="9" transform="rotate(32 1318 725)"/>
 <!-- washers -->
 <ellipse cx="1252" cy="815" rx="95" ry="48" transform="rotate(38 1252 815)" class="f"/>
 <ellipse cx="1245" cy="808" rx="95" ry="48" transform="rotate(38 1245 808)" class="f"/>
 <ellipse cx="1245" cy="808" rx="52" ry="22" transform="rotate(38 1245 808)"/>
 <ellipse cx="1158" cy="930" rx="95" ry="48" transform="rotate(38 1158 930)" class="f"/>
 <ellipse cx="1150" cy="922" rx="95" ry="48" transform="rotate(38 1150 922)" class="f"/>
 <ellipse cx="1150" cy="922" rx="52" ry="22" transform="rotate(38 1150 922)"/>
 <!-- bolt 22 -->
 <g transform="translate(965,1145) rotate(-50)">
  <path class="f" d="M20,-34 L170,-34 A12,34 0 0 1 170,34 L20,34 Z"/>
  <path stroke-width="9" d="M45,-34 A12,34 0 0 1 45,34 M68,-34 A12,34 0 0 1 68,34 M91,-34 A12,34 0 0 1 91,34 M114,-34 A12,34 0 0 1 114,34 M137,-34 A12,34 0 0 1 137,34 M160,-34 A12,34 0 0 1 160,34"/>
  <path class="f" d="M-15,-62 L25,-62 L35,-30 L35,30 L25,62 L-15,62 L-28,30 L-28,-30 Z"/>
  <path d="M-15,-62 L-5,-30 L-5,30 L-15,62 M-5,-30 L35,-30 M-5,30 L35,30"/>
  <ellipse cx="-16" cy="0" rx="10" ry="26"/>
  <ellipse cx="-16" cy="0" rx="5" ry="14"/>
 </g>
 <!-- hook 18 -->
 <path class="f" d="M790,1220 C800,1180 830,1170 870,1195 C930,1230 975,1290 980,1330 C975,1355 940,1360 910,1350 C885,1360 875,1400 880,1450 C890,1530 960,1580 1030,1610 C1040,1580 1060,1565 1085,1570 L1200,1640 C1225,1660 1235,1720 1225,1755 C1215,1780 1185,1785 1150,1770 L880,1620 C820,1570 780,1480 775,1400 C775,1330 780,1270 790,1220 Z"/>
 <path d="M850,1240 C880,1270 890,1310 890,1350 M815,1195 C880,1220 920,1260 935,1310 L915,1310 M1030,1610 L1100,1650 C1130,1680 1140,1720 1130,1755 M1100,1650 L1165,1680 L1180,1760 M1165,1680 L1215,1650"/>
 <ellipse cx="800" cy="1340" rx="22" ry="48" transform="rotate(15 800 1340)" class="f"/>
 <!-- bolt 23 -->
 <g transform="translate(575,1612) rotate(-50)">
  <path class="f" d="M20,-30 L185,-30 A10,30 0 0 1 185,30 L20,30 Z"/>
  <path stroke-width="9" d="M75,-30 A10,30 0 0 1 75,30 M97,-30 A10,30 0 0 1 97,30 M119,-30 A10,30 0 0 1 119,30 M141,-30 A10,30 0 0 1 141,30 M163,-30 A10,30 0 0 1 163,30 M180,-30 A10,30 0 0 1 180,30"/>
  <path class="f" d="M-25,-50 L30,-50 A16,50 0 0 1 30,50 L-25,50 Z"/>
  <ellipse cx="-25" cy="0" rx="16" ry="50" class="f"/>
  <ellipse cx="-25" cy="0" rx="9" ry="24"/>
  <ellipse cx="-25" cy="0" rx="4" ry="12"/>
 </g>
 <path d="M715,1445 L800,1340"/>
</g>

<!-- valve 3 + clamps 6; zoom origin (250,1420) scale 7.468 -->
<g transform="translate(250,1420) scale(0.1339)" stroke-width="16.5">
 <!-- bottom stub -->
 <path class="f" d="M245,470 L245,600 L365,600 L365,490 Z"/>
 <path class="f" d="M208,605 C210,560 390,555 395,600 L380,685 C370,730 235,735 225,690 Z"/>
 <path d="M210,615 C230,660 370,655 393,610 M235,590 C260,615 340,615 365,590"/>
 <!-- elbow -->
 <path class="f" d="M185,435 L185,265 C195,200 240,160 290,160 L385,210 L420,205 L530,240 L800,375 L800,560 L620,685 L380,530 L355,470 L290,495 Z"/>
 <ellipse cx="345" cy="345" rx="62" ry="138" transform="rotate(22 345 345)"/>
 <ellipse cx="445" cy="385" rx="62" ry="150" transform="rotate(22 445 385)"/>
 <path d="M530,240 C470,290 440,420 470,560 M600,275 C540,330 510,450 535,600 M660,305 C610,350 585,400 580,440"/>
 <path d="M545,430 L610,480 L785,395 M610,480 L620,685 M545,430 L700,345 M545,430 L535,600"/>
 <path d="M400,400 L400,520 L445,548 L445,430 M400,455 L445,480 M420,410 L420,450 M425,500 L425,535"/>
 <!-- nipple -->
 <path class="f" d="M680,480 L730,470 L800,500 L850,500 L930,560 C950,600 940,680 870,710 L760,660 L740,610 L680,590 C655,560 660,500 680,480 Z"/>
 <path d="M800,500 C770,530 760,600 760,660 M730,470 C700,500 700,560 740,610"/>
 <ellipse cx="885" cy="625" rx="48" ry="72" transform="rotate(22 885 625)" stroke-width="16"/>
 <ellipse cx="888" cy="628" rx="28" ry="48" transform="rotate(22 888 628)"/>
 <!-- clamp 6 right -->
 <path class="f" d="M1010,870 L1030,935 L1075,965 L1215,865 L1225,830 L1215,790 Z"/>
 <path d="M1085,895 L1085,960 M1185,830 L1190,880"/>
 <ellipse cx="1105" cy="765" rx="98" ry="148" transform="rotate(22 1105 765)" class="f"/>
 <ellipse cx="1110" cy="770" rx="42" ry="122" transform="rotate(22 1110 770)"/>
 <path d="M1040,870 C1080,880 1150,850 1190,790"/>
 <!-- clamp 6 left -->
 <path class="f" d="M110,890 L270,810 L320,855 L330,900 L190,985 L125,950 Z"/>
 <path d="M110,890 L180,920 L320,855 M180,920 L190,985 M225,835 L260,880"/>
 <ellipse cx="310" cy="965" rx="122" ry="78" class="f"/>
 <path class="f" d="M188,965 L188,1010 C200,1090 420,1090 432,1010 L432,965"/>
 <ellipse cx="310" cy="965" rx="122" ry="78" class="f"/>
 <ellipse cx="310" cy="968" rx="98" ry="48"/>
</g>

<!-- ECU 10, pin 11, clamp 12; zoom origin (380,1880) scale 5.134 -->
<g transform="translate(380,1880) scale(0.19477)" stroke-width="11.8">
 <!-- bracket behind -->
 <path class="f" d="M990,420 L1020,390 L1100,420 L1120,385 L1140,400 L1135,440 L1250,500 L1260,780 L1215,810 L1210,870 L1160,840 L990,700 Z"/>
 <path d="M990,420 L1185,520 L1250,500 M1185,520 L1195,800 M1010,430 L1010,520"/>
 <ellipse cx="1155" cy="560" rx="12" ry="20"/>
 <path d="M940,640 L1000,540 L1010,640 M975,670 L1035,575 L1045,690 M1020,700 L1080,600 L1090,720 M1070,730 L1130,630 L1140,750 M1120,760 L1170,650 L1185,770 M960,650 L990,600 M1000,690 L1030,640 M1050,715 L1075,670 M1100,745 L1125,700"/>
 <path class="f" d="M830,655 L870,640 L1175,810 L1160,840 Z"/>
 <!-- tube -->
 <path class="f" d="M348,560 L470,790 L580,720 L468,512 Z" stroke="none"/>
 <path d="M348,560 L470,785 M468,512 L578,715"/>
 <ellipse cx="405" cy="522" rx="66" ry="27" transform="rotate(-18 405 522)" class="f"/>
 <path d="M345,550 C360,580 440,560 470,525"/>
 <!-- box -->
 <path class="f" d="M395,830 L745,630 L1185,890 L1190,1040 L840,1240 L395,1010 Z"/>
 <path d="M395,830 L840,1090 L1185,890 M840,1090 L840,1240"/>
 <path class="f" d="M1190,910 L1250,920 L1255,960 L1195,985 Z"/>
 <path d="M1175,860 L1215,850 L1215,815"/>
 <!-- base / connectors -->
 <path class="f" d="M350,1030 L395,1005 L395,1010 L840,1240 L800,1225 L810,1250 L750,1278 L365,1062 Z"/>
 <path d="M350,1030 L740,1250 L800,1225 M740,1250 L750,1278"/>
 <path d="M400,1010 L430,940 L490,940 L760,1090 L790,1130 L800,1220 M430,940 L440,1060 M490,940 L445,975"/>
 <path d="M445,1035 L500,1060 L500,1110 L445,1085 Z M445,1035 L500,1110 M590,1110 L640,1135 L640,1175 L590,1150 Z M610,1125 L610,1160 M700,1120 L790,1130 L770,1215 L695,1180 Z M720,1130 L710,1180"/>
 <!-- pin 11 -->
 <path class="f" d="M530,440 L615,375 L640,415 Z"/>
 <path class="f" d="M600,388 L770,290 L792,325 L627,420 Z"/>
 <path class="f" d="M820,250 L905,200 L930,250 L842,302 Z" stroke="none"/>
 <path d="M820,250 L905,200 M842,302 L930,250"/>
 <ellipse cx="917" cy="225" rx="14" ry="28" transform="rotate(28 917 225)" class="f"/>
 <ellipse cx="800" cy="292" rx="30" ry="62" transform="rotate(28 800 292)" class="f"/>
 <ellipse cx="790" cy="290" rx="30" ry="62" transform="rotate(28 790 290)" class="f"/>
 <path d="M960,195 L1050,145 L1055,630 L1160,570" stroke-width="8"/>
 <!-- clamp 12 -->
 <path class="f" d="M215,410 L380,335 C400,335 415,355 413,385 L262,470 Z"/>
 <path d="M240,425 L390,350"/>
 <path class="f" d="M205,420 L250,400 L290,470 L250,500 Z"/>
 <path d="M215,440 L265,420 M225,470 L275,445"/>
 <path class="f" d="M130,530 L215,465 L235,490 L150,565 Z"/>
</g>

<!-- FWD arrow + title; zoom origin (130,1980) scale 5.134 -->
<g transform="translate(130,1980) scale(0.19477)" stroke-width="12">
 <path class="f" d="M365,435 L540,160 L585,188 L585,215 L845,75 L888,100 L888,320 L585,492 L585,565 Z"/>
 <path stroke-width="7" d="M410,458 L578,198 L578,272 L882,108 M578,272 L585,215"/>
</g>
<text font-size="40" font-weight="bold" font-style="italic" stroke="#000" stroke-width="1.3" transform="matrix(0.62,-0.335,0,1,242.2,2069.5)">FWD</text>
<text font-size="27.6" stroke-width="0.5" transform="translate(146.5,2134.8) scale(1.29,1)">F1BG100-D210</text>

<!-- tie 17, clip 15, pin 16; zoom origin (600,1290) scale 6.319 -->
<g transform="translate(600,1290) scale(0.15825)" stroke-width="14.5">
 <path class="f" d="M350,745 L880,1055 L1050,1200 L1050,1225 L1000,1230 L870,1160 L335,860 Z"/>
 <path d="M345,790 L870,1075 L1040,1205"/>
 <path class="f" d="M200,730 L265,685 L350,725 L325,870 L280,890 L205,850 Z"/>
 <path d="M200,730 L290,770 L350,725 M290,770 L280,890 M220,780 L265,800 L262,850 L222,832 Z M240,800 L240,835"/>
 <!-- clip 15 -->
 <path class="f" d="M1075,1250 L1195,1180 L1205,1110 L1245,1115 L1240,1290 L1300,1250 L1335,1280 L1340,1255 L1435,1250 L1440,1410 L1340,1410 L1225,1470 L1080,1390 Z"/>
 <path d="M1075,1250 L1215,1310 L1225,1470 M1215,1310 L1335,1280 L1340,1410 M1130,1260 L1200,1215 L1215,1310 M1225,1120 L1222,1280" />
 <path stroke-width="18" d="M1232,1125 L1230,1280"/>
 <ellipse cx="1145" cy="1360" rx="27" ry="38" transform="rotate(-15 1145 1360)"/>
 <ellipse cx="1293" cy="1365" rx="19" ry="44" transform="rotate(10 1293 1365)"/>
 <!-- pin 16 -->
 <path class="f" d="M545,1706 L632,1618 L668,1660 Z"/>
 <path class="f" d="M640,1625 L830,1530 L852,1572 L665,1662 Z"/>
 <path d="M632,1618 L668,1660"/>
 <path class="f" d="M900,1475 L985,1415 L1025,1470 L925,1530 Z" stroke="none"/>
 <path d="M900,1475 L985,1415 M925,1530 L1025,1470"/>
 <ellipse cx="1005" cy="1442" rx="18" ry="34" transform="rotate(30 1005 1442)" class="f"/>
 <ellipse cx="872" cy="1532" rx="38" ry="72" transform="rotate(30 872 1532)" class="f"/>
 <ellipse cx="860" cy="1528" rx="38" ry="72" transform="rotate(30 860 1528)" class="f"/>
</g>

<!-- clip 14; zoom origin (620,1680) scale 10.27 -->
<g transform="translate(620,1680) scale(0.09738)" stroke-width="24">
 <path class="f" d="M345,710 L510,445 L800,300 L1035,440 L1000,580 L1140,510 L1425,690 C1380,780 1200,860 1050,770 L965,800 L810,1045 C700,1070 450,950 345,710 Z"/>
 <path d="M510,445 L570,485 L845,345 L800,300 M570,485 L415,745 L345,710 M560,500 C600,620 700,700 820,735 M850,350 C850,450 900,540 990,580 M870,640 L1140,510 M905,665 L1170,545 L1140,510 M870,640 L905,665 L950,790 C1050,750 1140,680 1180,590 M870,640 L710,910 L760,945 L905,665 M760,945 L810,1045 M710,910 L740,990 M415,745 C480,880 600,980 730,995 L740,990 M950,790 L965,800"/>
</g>

<!-- gasket plate; zoom origin (800,1580) scale 3.286 -->
<g transform="translate(800,1580) scale(0.30432)" stroke-width="6.6">
<path stroke-dasharray="36 9 7 9" stroke-linecap="butt" d="M450,150 L1170,500 L1250,560 L1240,720 C1250,850 1300,1000 1380,1100 L1390,1500 L1340,1600 L1180,1612"/>
<path stroke-dasharray="36 9 7 9" stroke-linecap="butt" d="M520,195 L1100,478 M370,200 L450,150 M1170,500 L1170,560 M1250,560 C1290,570 1290,620 1260,630"/>
<path d="M455,120 L470,70 L520,90 L510,150 M470,70 L490,60 L525,75 L520,90 M1105,510 L1120,460 L1165,480 L1160,540 M1120,460 L1140,452 L1172,468 L1165,480 M520,135 C540,115 575,125 570,150"/>
<path class="f" d="M275,250 L300,192 L350,180 L372,205 L345,265 L300,290 Z"/>
<path d="M300,192 L325,215 L372,205 M325,215 L300,290"/>
<path class="f" d="M370,200 C400,160 470,170 500,220 C520,260 520,300 540,360 L570,430 C700,440 800,500 900,560 L1030,610 C1050,560 1110,540 1150,570 C1190,600 1190,680 1160,720 C1200,900 1220,1000 1250,1080 C1320,1060 1380,1110 1385,1180 L1390,1500 C1390,1580 1340,1620 1280,1610 L1180,1612 L1100,1570 L990,1540 L780,1350 L420,1160 L400,1130 L330,1100 L220,930 C150,900 120,830 150,780 L180,700 L280,420 C270,380 290,340 300,330 Z"/>
<path  d="M986,635 C1040,690 1100,850 1100,1100 L1105,1565"/>
<path stroke-dasharray="36 9 7 9" stroke-linecap="butt" d="M986,656 C1047,698 1114,850 1114,1100 L1119,1569"/>
<path  d="M986,676 C1054,707 1128,850 1128,1100 L1133,1573"/>
<path stroke-dasharray="36 9 7 9" stroke-linecap="butt" d="M986,696 C1061,715 1142,850 1142,1100 L1147,1578"/>
<path  d="M425,790 L335,1060 L330,1105"/>
<path stroke-dasharray="36 9 7 9" stroke-linecap="butt" d="M439,786 L349,1060 L344,1112"/>
<path  d="M453,782 L363,1060 L358,1119"/>
<path stroke-dasharray="36 9 7 9" stroke-linecap="butt" d="M467,777 L377,1060 L372,1126"/>
<path d="M450,960 L450,1140 L640,1275 C640,1262 630,1255 620,1250 L470,1020 M420,1160 L410,1050 L440,950"/>
<path stroke-dasharray="36 9 7 9" stroke-linecap="butt" d="M460,500 C440,560 440,640 430,780 M540,360 C500,400 470,450 460,500 M300,330 C330,360 380,400 430,440 L470,520 M250,800 L380,770 L430,780 L500,740 M260,880 L370,850 L340,1060 M150,780 C200,760 250,780 260,830"/>
<path d="M413,313 L502,436 M463,285 L547,430 M446,531 L424,755 M480,548 L469,750"/>
<path stroke-dasharray="36 9 7 9" stroke-linecap="butt" d="M438,302 L525,447 M491,257 L564,419 M463,537 L446,761"/>
<path d="M446,531 C424,509 402,458 368,397 C355,380 340,374 329,374 C300,378 278,410 278,436 L284,481"/>
<path stroke-dasharray="36 9 7 9" stroke-linecap="butt" d="M430,498 L402,436 C390,410 375,397 362,397 C340,388 323,391 310,400 C298,410 295,440 295,458 M502,436 L480,548 M525,447 L463,537"/>
<path d="M564,419 L626,436 L794,531 L986,635 M542,475 C560,468 580,470 598,475 L794,568 L986,677"/>
<path stroke-dasharray="36 9 7 9" stroke-linecap="butt" d="M553,444 L603,453 L794,548 L986,654 M491,537 C500,510 515,495 530,492 L570,495 L794,587 L986,696"/>
<ellipse cx="800" cy="940" rx="225" ry="370" transform="rotate(-22 800 940)" class="f"/>
<path stroke-dasharray="36 9 7 9" stroke-linecap="butt" d="M560,720 C540,900 640,1180 800,1290 M600,600 C650,560 760,590 860,680"/>
<path d="M575,760 C590,950 680,1150 830,1265"/>
<ellipse cx="775" cy="450" rx="62" ry="82" transform="rotate(-25 775 450)" class="f"/>
<path d="M720,420 C700,480 740,530 800,530"/>
<ellipse cx="335" cy="680" rx="58" ry="82" transform="rotate(-25 335 680)" class="f"/>
<path d="M290,650 C270,710 300,760 350,762"/>
<ellipse cx="595" cy="370" rx="14" ry="20" transform="rotate(-25 595 370)"/>
<ellipse cx="1000" cy="597" rx="14" ry="20" transform="rotate(-25 1000 597)"/>
<path class="f" d="M985,1115 L1040,1090 L1060,1110 L1060,1500 L1040,1520 L985,1500 Z"/>
<path stroke-dasharray="36 9 7 9" stroke-linecap="butt" d="M1040,1090 L1040,1520 M860,1400 L985,1470 M880,1430 L985,1495"/>
<path d="M780,1350 C790,1335 810,1340 830,1350"/>
<ellipse cx="420" cy="235" rx="50" ry="62" transform="rotate(-25 420 235)" class="f"/>
<ellipse cx="420" cy="235" rx="38" ry="48" transform="rotate(-25 420 235)" />
<ellipse cx="420" cy="235" rx="27" ry="34" transform="rotate(-25 420 235)" />
<ellipse cx="420" cy="235" rx="16" ry="20" transform="rotate(-25 420 235)" />
<g transform="translate(440,250) rotate(156.1)">
<path class="f" d="M0,-22 L153,-22 A10,22 0 0 1 153,22 L0,22 Z"/>
<ellipse cx="153" cy="0" rx="10" ry="22" class="f"/>
<path stroke-width="7" d="M139,-22 A10,22 0 0 0 139,22M124,-22 A10,22 0 0 0 124,22M109,-22 A10,22 0 0 0 109,22M94,-22 A10,22 0 0 0 94,22M79,-22 A10,22 0 0 0 79,22M64,-22 A10,22 0 0 0 64,22M49,-22 A10,22 0 0 0 49,22"/>
</g>
<ellipse cx="330" cy="440" rx="50" ry="62" transform="rotate(-25 330 440)" class="f"/>
<ellipse cx="330" cy="440" rx="38" ry="48" transform="rotate(-25 330 440)" />
<ellipse cx="330" cy="440" rx="27" ry="34" transform="rotate(-25 330 440)" />
<g transform="translate(370,468) rotate(150.7)">
<path class="f" d="M0,-24 L212,-24 A11,24 0 0 1 212,24 L0,24 Z"/>
<ellipse cx="212" cy="0" rx="11" ry="24" class="f"/>
<path class="f" d="M184,-37 L212,-37 L212,37 L184,37 A24,37 0 0 1 184,-37 Z"/>
<ellipse cx="212" cy="0" rx="24" ry="37" class="f"/>
<ellipse cx="214" cy="0" rx="12" ry="19"/>
<ellipse cx="215" cy="0" rx="6" ry="10"/>
</g>
<ellipse cx="195" cy="815" rx="50" ry="62" transform="rotate(-25 195 815)" class="f"/>
<ellipse cx="195" cy="815" rx="38" ry="48" transform="rotate(-25 195 815)" />
<ellipse cx="195" cy="815" rx="27" ry="34" transform="rotate(-25 195 815)" />
<ellipse cx="195" cy="815" rx="16" ry="20" transform="rotate(-25 195 815)" />
<g transform="translate(222,828) rotate(156.1)">
<path class="f" d="M0,-22 L161,-22 A10,22 0 0 1 161,22 L0,22 Z"/>
<ellipse cx="161" cy="0" rx="10" ry="22" class="f"/>
<path stroke-width="7" d="M147,-22 A10,22 0 0 0 147,22M132,-22 A10,22 0 0 0 132,22M117,-22 A10,22 0 0 0 117,22M102,-22 A10,22 0 0 0 102,22M87,-22 A10,22 0 0 0 87,22M72,-22 A10,22 0 0 0 72,22M57,-22 A10,22 0 0 0 57,22M42,-22 A10,22 0 0 0 42,22"/>
</g>
<ellipse cx="1105" cy="625" rx="50" ry="62" transform="rotate(-25 1105 625)" class="f"/>
<ellipse cx="1105" cy="625" rx="38" ry="48" transform="rotate(-25 1105 625)" />
<ellipse cx="1105" cy="625" rx="27" ry="34" transform="rotate(-25 1105 625)" />
<ellipse cx="1105" cy="625" rx="16" ry="20" transform="rotate(-25 1105 625)" />
<g transform="translate(1122,632) rotate(154.4)">
<path class="f" d="M0,-22 L157,-22 A10,22 0 0 1 157,22 L0,22 Z"/>
<ellipse cx="157" cy="0" rx="10" ry="22" class="f"/>
<path stroke-width="7" d="M143,-22 A10,22 0 0 0 143,22M128,-22 A10,22 0 0 0 128,22M113,-22 A10,22 0 0 0 113,22M98,-22 A10,22 0 0 0 98,22M83,-22 A10,22 0 0 0 83,22M68,-22 A10,22 0 0 0 68,22M53,-22 A10,22 0 0 0 53,22"/>
</g>
<path class="f" d="M1180,1130 C1190,1070 1260,1050 1300,1090 C1340,1130 1330,1200 1290,1230 C1310,1270 1310,1330 1270,1370 C1290,1420 1340,1450 1370,1500 C1390,1560 1340,1610 1290,1590 C1250,1570 1240,1520 1230,1470 C1200,1440 1170,1400 1170,1340 C1150,1300 1160,1250 1190,1230 C1170,1200 1170,1160 1180,1130 Z"/>
<path d="M1200,1140 C1210,1090 1260,1080 1290,1110 C1320,1140 1310,1190 1270,1220 C1290,1260 1290,1320 1250,1350 C1270,1420 1330,1460 1350,1510 C1360,1550 1330,1585 1300,1570 M1215,1250 C1235,1270 1240,1300 1230,1330 M1190,1350 C1200,1400 1230,1440 1260,1480"/>
<ellipse cx="1240" cy="1150" rx="48" ry="60" transform="rotate(-20 1240 1150)" class="f"/>
<ellipse cx="1240" cy="1150" rx="34" ry="42" transform="rotate(-20 1240 1150)" />
<g transform="translate(1268,1160) rotate(154.5)">
<path class="f" d="M0,-24 L186,-24 A11,24 0 0 1 186,24 L0,24 Z"/>
<ellipse cx="186" cy="0" rx="11" ry="24" class="f"/>
<path class="f" d="M158,-37 L186,-37 L186,37 L158,37 A24,37 0 0 1 158,-37 Z"/>
<ellipse cx="186" cy="0" rx="24" ry="37" class="f"/>
<ellipse cx="188" cy="0" rx="12" ry="19"/>
<ellipse cx="189" cy="0" rx="6" ry="10"/>
</g>
<ellipse cx="1215" cy="1310" rx="38" ry="48" transform="rotate(-20 1215 1310)" class="f"/>
<ellipse cx="1215" cy="1310" rx="26" ry="32" transform="rotate(-20 1215 1310)" />
<g transform="translate(1238,1320) rotate(153.0)">
<path class="f" d="M0,-24 L172,-24 A11,24 0 0 1 172,24 L0,24 Z"/>
<ellipse cx="172" cy="0" rx="11" ry="24" class="f"/>
<path class="f" d="M144,-37 L172,-37 L172,37 L144,37 A24,37 0 0 1 144,-37 Z"/>
<ellipse cx="172" cy="0" rx="24" ry="37" class="f"/>
<ellipse cx="174" cy="0" rx="12" ry="19"/>
<ellipse cx="175" cy="0" rx="6" ry="10"/>
</g>
<ellipse cx="1320" cy="1512" rx="40" ry="50" transform="rotate(-20 1320 1512)" class="f"/>
<ellipse cx="1320" cy="1512" rx="27" ry="34" transform="rotate(-20 1320 1512)" />
<ellipse cx="1320" cy="1512" rx="16" ry="20" transform="rotate(-20 1320 1512)" />
<g transform="translate(1332,1512) rotate(154.5)">
<path class="f" d="M0,-22 L163,-22 A10,22 0 0 1 163,22 L0,22 Z"/>
<ellipse cx="163" cy="0" rx="10" ry="22" class="f"/>
<path stroke-width="7" d="M149,-22 A10,22 0 0 0 149,22M134,-22 A10,22 0 0 0 134,22M119,-22 A10,22 0 0 0 119,22M104,-22 A10,22 0 0 0 104,22M89,-22 A10,22 0 0 0 89,22M74,-22 A10,22 0 0 0 74,22M59,-22 A10,22 0 0 0 59,22M44,-22 A10,22 0 0 0 44,22"/>
</g>
<path class="f" d="M1330,1300 L1390,1270 L1410,1330 L1350,1358 Z"/>
<path d="M1360,1062 C1400,1030 1450,1000 1520,985 L1660,962 M1390,1112 C1420,1085 1470,1060 1540,1045 L1660,1025 M1440,1395 C1480,1420 1490,1480 1465,1510"/>
<path stroke-dasharray="36 9 7 9" stroke-linecap="butt" d="M1385,1180 L1400,1280 M1410,1340 C1440,1400 1470,1500 1460,1560 L1390,1600"/>
<ellipse cx="978" cy="1318" rx="40" ry="50" transform="rotate(-20 978 1318)" class="f"/>
<ellipse cx="990" cy="1322" rx="28" ry="38" transform="rotate(-20 990 1322)"/>
<path class="f" d="M955,1262 L975,1240 L1015,1262 L1020,1290 L985,1300 L960,1285 Z"/>
<ellipse cx="1000" cy="1275" rx="14" ry="18"/>
<path stroke-dasharray="36 9 7 9" stroke-linecap="butt" d="M1030,1280 L1075,1258"/>
</g>
<!-- jet housing; zoom origin (1170,1480) scale 3.651 -->
<g transform="translate(1170,1480) scale(0.27389)" stroke-width="7.3">
 <!-- rear body -->
 <path stroke-dasharray="36 9 7 9" stroke-linecap="butt" d="M820,290 C860,250 950,225 1040,230 C1150,260 1250,400 1300,560 C1305,600 1300,630 1290,645"/>
 <path d="M880,250 C940,235 1010,245 1060,290 C1150,370 1220,500 1245,640 M1000,270 C1110,330 1190,480 1215,620 M980,240 L1075,235 L1080,265 L960,330 L935,315 L1020,262 Z"/>
 <path d="M620,330 L870,315 L880,345 L640,368 C620,360 610,345 620,330 Z"/>
 <path stroke-dasharray="36 9 7 9" stroke-linecap="butt" d="M640,400 L900,600 M880,345 L980,330 M1150,740 C1100,780 1080,830 1075,870 M1180,640 C1170,700 1190,760 1200,780 L1160,920"/>
 <!-- top pipe -->
 <path class="f" stroke="none" d="M405,0 L405,315 L490,315 L490,0 Z"/>
 <path stroke-dasharray="36 9 7 9" stroke-linecap="butt" d="M405,310 L405,100 C405,50 420,15 445,-10 M490,310 L490,70 C492,35 505,10 525,-10"/>
 <path d="M402,312 C410,335 480,335 492,312"/>
 <!-- flange -->
 <path class="f" d="M160,305 L265,250 L320,280 L325,345 L355,288 L900,640 L930,700 L940,760 L870,800 L875,1000 L850,1200 L800,1390 L770,1395 L240,1085 L190,1030 L135,600 Z"/>
 <path d="M370,325 L830,690 C850,740 860,780 865,830 M265,250 L310,215 L345,205 L400,235 M320,280 L400,250 M310,215 C300,235 305,255 320,265"/>
 <ellipse cx="515" cy="825" rx="473" ry="278" transform="rotate(61 515 825)"/>
 <ellipse cx="524" cy="832" rx="450" ry="255" transform="rotate(61 524 832)"/>
 <ellipse cx="202" cy="355" rx="17" ry="24" transform="rotate(-20 202 355)"/>
 <ellipse cx="260" cy="362" rx="14" ry="21" transform="rotate(-20 260 362)"/>
 <ellipse cx="800" cy="706" rx="20" ry="28" transform="rotate(-20 800 706)"/>
 <ellipse cx="240" cy="1022" rx="19" ry="27" transform="rotate(-20 240 1022)"/>
 <ellipse cx="780" cy="1275" rx="16" ry="24" transform="rotate(-20 780 1275)"/>
 <ellipse cx="752" cy="1340" rx="18" ry="27" transform="rotate(-20 752 1340)"/>
 <!-- inner ribs -->
 <path d="M300,430 L380,547 L530,470 M340,420 L395,530 M255,690 L320,745 L680,565 M265,665 L610,480 M255,690 L265,665 M610,630 L640,560 L680,580 Z M405,1072 L450,1012 L790,822 M430,1095 L460,1040 M470,1075 L800,885 M770,895 L830,925 M690,1110 L750,1222 M712,1095 L770,1200 M712,1095 L830,990"/>
 <!-- right side bosses/blocks -->
 <path stroke-dasharray="36 9 7 9" stroke-linecap="butt" d="M890,560 C910,545 930,550 945,560 M940,760 C960,900 960,1050 930,1150 M1080,1100 L1070,1330 C1065,1390 1020,1440 950,1445 L350,1445 C280,1470 230,1500 180,1535 M1160,920 L1140,1350 C1135,1440 1080,1500 1000,1510 L400,1510 L320,1535"/>
 <path class="f" d="M890,562 L1060,655 L1100,740 L1050,735 L920,640 Z" stroke="none"/>
 <path d="M900,558 L1070,650 M930,650 L1050,735 M980,600 L1060,548 L1085,610 M1030,700 L1060,1000 L1100,1040 M1045,740 L1130,1040 M1000,985 L1060,1020"/>
 <ellipse cx="1088" cy="700" rx="30" ry="42" transform="rotate(25 1088 700)" class="f"/>
 <ellipse cx="1090" cy="702" rx="15" ry="24" transform="rotate(25 1090 702)"/>
 <ellipse cx="1250" cy="680" rx="36" ry="46" transform="rotate(25 1250 680)" class="f"/>
 <ellipse cx="1250" cy="680" rx="18" ry="26" transform="rotate(25 1250 680)"/>
 <ellipse cx="1122" cy="1076" rx="28" ry="40" transform="rotate(25 1122 1076)" class="f"/>
 <ellipse cx="1123" cy="1077" rx="14" ry="22" transform="rotate(25 1123 1077)"/>
 <path d="M1080,870 C1110,850 1160,860 1170,890 M1085,900 C1110,890 1140,895 1150,920"/>
 <path class="f" d="M875,762 L960,730 L966,830 L897,866 Z"/>
 <path d="M875,762 L897,790 L966,752 M897,790 L897,866 M960,745 L1030,705"/>
 <path class="f" d="M850,1282 L868,1205 L935,1172 L972,1197 L970,1290 L905,1330 Z"/>
 <path d="M868,1205 L905,1232 L972,1197 M905,1232 L905,1330 M950,1180 L1050,1085 L1030,1065 L940,1150"/>
 <ellipse cx="936" cy="1262" rx="13" ry="20" transform="rotate(15 936 1262)"/>
 <path d="M800,1390 L880,1340"/>
 <!-- left little cylinder & lines -->
 <path d="M0,950 C40,945 70,975 80,1020 C80,1045 65,1058 50,1060"/>
 <path stroke-dasharray="36 9 7 9" stroke-linecap="butt" d="M50,1060 C30,1100 25,1150 30,1200 L60,1400 C70,1460 90,1500 115,1535 M0,1390 C10,1450 30,1500 50,1535"/>
</g>

<!-- plug 7, nut 8, clamp 9, tube; zoom origin (1240,1160) scale 4.832 -->
<g transform="translate(1240,1160) scale(0.20694)" stroke-width="11">
 <!-- tube phantom -->
 <path stroke-dasharray="52 12 9 12" stroke-linecap="butt" d="M628,900 C628,960 625,1040 590,1090 L300,1400 C250,1460 215,1520 205,1600 L193,1760 M742,900 C742,970 740,1060 700,1120 L400,1440 C350,1500 322,1560 316,1640 L310,1760"/>
 <ellipse cx="685" cy="890" rx="58" ry="30" class="f"/>
 <ellipse cx="685" cy="888" rx="30" ry="14"/>
 <path d="M690,880 L697,548 L835,485 L790,1395 L980,1305 L990,1105 M1018,545 L1012,690 M1005,835 L1000,1000"/>
 <!-- plug 7 -->
 <path class="f" d="M965,425 L970,498 C990,515 1060,515 1080,500 L1090,425 Z"/>
 <ellipse cx="1028" cy="428" rx="62" ry="20" class="f"/>
 <path d="M968,450 C990,470 1060,470 1088,450"/>
 <path class="f" d="M990,370 L990,425 C1010,440 1060,440 1075,425 L1075,370 Z"/>
 <path class="f" d="M940,235 L940,340 C960,395 1120,395 1145,340 L1145,235 Z"/>
 <path stroke-width="12" d="M940,275 C970,320 1110,320 1145,275 M940,312 C970,357 1110,357 1145,312 M945,345 C975,390 1110,390 1142,345"/>
 <ellipse cx="1043" cy="170" rx="140" ry="73" class="f"/>
 <path d="M905,180 C915,250 1170,250 1182,180"/>
 <path d="M950,150 L990,175 L950,190 Z"/>
 <ellipse cx="1078" cy="118" rx="19" ry="10"/>
 <!-- nut 8 -->
 <path class="f" d="M905,685 L910,742 L980,792 L1110,792 L1180,742 L1185,685 Z"/>
 <path d="M975,757 L975,792 M1110,757 L1110,792 M907,715 C930,770 1160,770 1183,715"/>
 <ellipse cx="1045" cy="680" rx="140" ry="78" class="f"/>
 <ellipse cx="1045" cy="680" rx="88" ry="48"/>
 <path d="M975,705 C1000,735 1090,735 1118,705"/>
 <!-- clamp 9 -->
 <path class="f" d="M917,1010 L917,1040 C930,1100 1080,1100 1093,1040 L1093,1010 Z"/>
 <ellipse cx="1005" cy="1010" rx="88" ry="55" class="f"/>
 <ellipse cx="1005" cy="1010" rx="56" ry="32"/>
 <path class="f" d="M865,1000 L900,985 L972,1030 L972,1080 L935,1090 L870,1042 Z"/>
 <path d="M865,1000 L935,1045 L972,1030 M935,1045 L935,1090"/>
 <path d="M1012,690 L1010,700 M1000,1000 L1000,1015"/>
</g>

<path d="M466.1,1579.4 C469.6,1582.0 480.7,1587.7 487.3,1595.2 C493.9,1602.7 501.0,1613.7 505.8,1624.3 C510.6,1634.9 512.9,1646.3 516.4,1658.7 C519.9,1671.1 521.7,1683.0 527.0,1698.4 C532.3,1713.8 538.4,1731.5 548.1,1751.3 C557.8,1771.1 570.2,1793.2 585.2,1817.5 C600.2,1841.8 618.3,1870.3 638.1,1896.8 C657.9,1923.2 687.2,1958.3 704.2,1976.2 C721.2,1994.1 725.9,1993.9 740.0,2004.2 C754.1,2014.5 772.5,2028.1 788.7,2038.2 C804.9,2048.3 821.2,2058.3 837.4,2065.0 C853.6,2071.7 869.9,2076.8 886.1,2078.4 C902.3,2080.0 918.6,2077.4 934.8,2074.8 C951.0,2072.2 973.0,2065.8 983.5,2062.6 C994.0,2059.3 995.7,2056.5 998.1,2055.3 L1002.9,2012.7 L978.6,2026.1 L934.8,2040.7 L886.1,2035.8 L837.4,2016.3 L788.7,1987.1 L742.0,1950.0 L677.8,1878.3 L624.9,1804.2 L585.2,1732.8 L564.0,1685.2 L553.4,1642.9 L537.6,1605.8 L516.4,1571.4 L487.3,1552.9 Z" fill="#fff" stroke="none"/>
<path d="M466.1,1579.4 C469.6,1582.0 480.7,1587.7 487.3,1595.2 C493.9,1602.7 501.0,1613.7 505.8,1624.3 C510.6,1634.9 512.9,1646.3 516.4,1658.7 C519.9,1671.1 521.7,1683.0 527.0,1698.4 C532.3,1713.8 538.4,1731.5 548.1,1751.3 C557.8,1771.1 570.2,1793.2 585.2,1817.5 C600.2,1841.8 618.3,1870.3 638.1,1896.8 C657.9,1923.2 687.2,1958.3 704.2,1976.2 C721.2,1994.1 725.9,1993.9 740.0,2004.2 C754.1,2014.5 772.5,2028.1 788.7,2038.2 C804.9,2048.3 821.2,2058.3 837.4,2065.0 C853.6,2071.7 869.9,2076.8 886.1,2078.4 C902.3,2080.0 918.6,2077.4 934.8,2074.8 C951.0,2072.2 973.0,2065.8 983.5,2062.6 C994.0,2059.3 995.7,2056.5 998.1,2055.3"/>
<path d="M487.3,1552.9 C492.1,1556.0 508.0,1562.6 516.4,1571.4 C524.8,1580.2 531.4,1593.9 537.6,1605.8 C543.8,1617.7 549.0,1629.7 553.4,1642.9 C557.8,1656.1 558.7,1670.2 564.0,1685.2 C569.3,1700.2 575.1,1713.0 585.2,1732.8 C595.4,1752.6 609.5,1780.0 624.9,1804.2 C640.3,1828.5 658.3,1854.0 677.8,1878.3 C697.3,1902.6 723.5,1931.9 742.0,1950.0 C760.5,1968.1 772.8,1976.0 788.7,1987.1 C804.6,1998.1 821.2,2008.2 837.4,2016.3 C853.6,2024.4 869.9,2031.7 886.1,2035.8 C902.3,2039.9 919.4,2042.3 934.8,2040.7 C950.2,2039.1 967.2,2030.8 978.6,2026.1 C990.0,2021.4 998.9,2014.9 1002.9,2012.7"/>
<path class="f" d="M442.3,1531.7 L481,1552.5 L464,1580 L429.1,1555.6 Z" stroke="none"/>
<path d="M442.3,1531.7 L481,1552.5 M429.1,1555.6 L464,1580"/>
<ellipse cx="435.7" cy="1543.7" rx="7" ry="13.2" transform="rotate(28 435.7 1543.7)" class="f"/>
<path class="f" d="M479.0,1551.0 A16.0,7.0 115.0 0 0 465.5,1580.0"/>
<path class="f" d="M484.0,1551.5 A17.7,7.0 113.3 0 0 470.0,1584.0"/>
<path class="f" d="M491.0,1554.0 A18.8,7.0 111.8 0 0 477.0,1589.0"/>
<path class="f" d="M498.0,1558.0 A19.3,7.0 111.3 0 0 484.0,1594.0"/>
<path d="M506.0,1564.0 A18.4,6.0 112.4 0 0 492.0,1598.0" stroke-width="2.4"/>
<path d="M513.0,1569.0 A16.8,6.0 112.8 0 0 500.0,1600.0" stroke-width="2.4"/>
<path d="M520.0,1576.0 A14.8,6.0 114.0 0 0 508.0,1603.0" stroke-width="2.4"/>
<path d="M526.0,1584.0 A12.5,6.0 113.5 0 0 516.0,1607.0" stroke-width="2.4"/>
<path d="M531.0,1592.0 A10.3,6.0 112.8 0 0 523.0,1611.0" stroke-width="2.4"/>
<path d="M535.0,1600.0 A8.7,6.0 113.6 0 0 528.0,1616.0" stroke-width="2.4"/>
<path d="M538.0,1608.0 A6.5,6.0 112.6 0 0 533.0,1620.0" stroke-width="2.4"/>
<path class="f" d="M1010,2014 L1044.3,1996.9 L1056.5,2021.2 L1023.7,2043.1 Z" stroke="none"/>
<path d="M1010.2,2013.9 L1044.3,1996.9 M1023.7,2043.1 L1056.5,2021.2"/>
<ellipse cx="1051.6" cy="2009" rx="6" ry="13.5" transform="rotate(-28 1051.6 2009)" class="f"/>
<path class="f" d="M981.0,2026.0 A17.0,7.0 59.7 0 1 998.1,2055.3" stroke-width="3.2"/>
<path class="f" d="M989.3,2022.7 A16.7,7.0 62.4 0 1 1004.8,2052.3" stroke-width="3.2"/>
<path class="f" d="M997.6,2019.4 A16.5,7.0 65.1 0 1 1011.5,2049.3" stroke-width="3.2"/>
<path class="f" d="M1005.9,2016.1 A16.3,7.0 67.8 0 1 1018.2,2046.3" stroke-width="3.2"/>
<path class="f" d="M1014.2,2012.8 A16.2,7.0 70.7 0 1 1024.9,2043.3" stroke-width="3.2"/>
<path class="t" d="M1061.4,1999.3 L1093,1983.5" stroke-dasharray="14 3 3 3"/>
<path d="M269.7,1627.4 C269.6,1632.8 268.3,1648.9 268.8,1660.0 C269.3,1671.1 269.6,1679.8 272.7,1694.0 C275.8,1708.2 276.4,1723.8 287.6,1745.2 C298.8,1766.6 322.2,1794.0 340.0,1822.6 C357.8,1851.2 384.6,1899.8 394.2,1916.6 C403.8,1933.3 397.3,1922.0 397.9,1923.1 L432.9,1903.5 L428.2,1895.6 L380.0,1814.0 L334.5,1732.4 L317.5,1694.0 L310.0,1660.0 L311.5,1627.4 Z" fill="#fff" stroke="none"/>
<path d="M269.7,1627.4 C269.6,1632.8 268.3,1648.9 268.8,1660.0 C269.3,1671.1 269.6,1679.8 272.7,1694.0 C275.8,1708.2 276.4,1723.8 287.6,1745.2 C298.8,1766.6 322.2,1794.0 340.0,1822.6 C357.8,1851.2 384.6,1899.8 394.2,1916.6 C403.8,1933.3 397.3,1922.0 397.9,1923.1"/>
<path d="M311.5,1627.4 C311.2,1632.8 309.0,1648.9 310.0,1660.0 C311.0,1671.1 313.4,1681.9 317.5,1694.0 C321.6,1706.1 324.1,1712.4 334.5,1732.4 C344.9,1752.4 364.4,1786.8 380.0,1814.0 C395.6,1841.2 419.4,1880.7 428.2,1895.6 C437.0,1910.5 432.1,1902.2 432.9,1903.5"/>
<ellipse cx="290.6" cy="1627.4" rx="20.9" ry="9.4" class="f"/>
<path class="f" d="M274,1581.9 L274,1630 A16.6,8 0 0 0 307.2,1630 L307.2,1581.9 Z"/>
<ellipse cx="290.6" cy="1581.9" rx="16.6" ry="10.2" class="f"/>
<ellipse cx="290.6" cy="1582.5" rx="10.7" ry="6"/>
<path d="M269.5,1640.0 A21,8.5 0 0 0 311,1640.0" stroke-width="2.3"/>
<path d="M269.5,1650.5 A21,8.5 0 0 0 311,1650.5" stroke-width="2.3"/>
<path d="M269.5,1661.0 A21,8.5 0 0 0 311,1661.0" stroke-width="2.3"/>
<path d="M269.5,1671.5 A21,8.5 0 0 0 311,1671.5" stroke-width="2.3"/>
<path d="M269.5,1682.0 A21,8.5 0 0 0 311,1682.0" stroke-width="2.3"/>
<path d="M269.5,1692.5 A21,8.5 0 0 0 311,1692.5" stroke-width="2.3"/>
<path d="M283,1703 A16,6 0 0 0 318,1697" stroke-width="2.2"/>
<path d="M290,1712 A16,6 0 0 0 321,1706" stroke-width="2.2"/>
<path d="M297,1721 A16,6 0 0 0 324,1715" stroke-width="2.2"/>
<path d="M380,1889.4 Q395.4,1878.1 416.7,1878.8" stroke-width="2.3"/>
<path d="M385.2,1896.7 Q400.0,1886.0 420.9,1887.3" stroke-width="2.3"/>
<path d="M389.8,1905.2 Q404.5,1894.1 425.2,1895" stroke-width="2.3"/>
<path d="M394.5,1912.9 Q409.0,1901.8 429.5,1902.7" stroke-width="2.3"/>
<path d="M374.9,1871.1 L386.4,1863.9 M379.6,1878.8 L393.3,1869.8 M381.5,1887.5 Q392,1878 404.8,1873.7" stroke-width="2.3"/>
<path class="f" d="M397.9,1923.1 Q399,1926 403,1924 L432.9,1907 L432.9,1903.5 Z" stroke="none"/>
<path d="M397.9,1923.1 Q399,1926.5 403.5,1924.5 Q415,1912 432.9,1906.5 L432.9,1903.5"/>
<path class="f" d="M403.9,1922.3 L416.7,1946.1 A15.3,6 -30 0 0 443.1,1930.8 L428.6,1906.9 Q412,1912 403.9,1922.3 Z"/>
<ellipse cx="430" cy="1938.4" rx="15.3" ry="6" transform="rotate(-30 430 1938.4)" class="f"/>
<ellipse cx="430" cy="1938.8" rx="8.5" ry="2.6" transform="rotate(-30 430 1938.8)" stroke-width="2.8"/>
<g id="labels" stroke="#000" stroke-width="0.55">
<text font-size="31" transform="translate(1429.0,244.5) scale(1.290,1)">30</text>
<text font-size="31" transform="translate(1504.5,407.0) scale(1.290,1)">31</text>
<text font-size="31" transform="translate(1177.5,517.5) scale(1.290,1)">32</text>
<text font-size="31" transform="translate(1408.7,651.0) scale(1.290,1)">33</text>
<text font-size="31" transform="translate(1461.0,681.0) scale(1.290,1)">34</text>
<text font-size="31" transform="translate(843.3,539.5) scale(1.290,1)">28</text>
<text font-size="31" transform="translate(915.0,576.0) scale(1.290,1)">29</text>
<text font-size="31" transform="translate(506.3,900.0) scale(1.290,1)">28</text>
<text font-size="31" transform="translate(585.4,928.4) scale(1.290,1)">29</text>
<text font-size="31" transform="translate(656.9,959.4) scale(1.290,1)">25</text>
<text font-size="31" transform="translate(715.6,990.4) scale(1.290,1)">27</text>
<text font-size="31" transform="translate(1106.5,859.0) scale(1.290,1)">26</text>
<text font-size="31" transform="translate(1326.5,745.8) scale(1.290,1)">26</text>
<text font-size="31" transform="translate(1001.1,1179.2) scale(1.290,1)">24</text>
<text font-size="31" transform="translate(1048.7,1214.0) scale(1.290,1)">29</text>
<text font-size="31" transform="translate(1122.2,1265.3) scale(1.290,1)">28</text>
<text font-size="31" transform="translate(1326.0,1049.0) scale(1.290,1)">29</text>
<text font-size="31" transform="translate(1389.4,1085.7) scale(1.290,1)">28</text>
<text font-size="31" transform="translate(1516.8,1210.2) scale(1.290,1)">7</text>
<text font-size="31" transform="translate(1517.7,1275.5) scale(1.290,1)">8</text>
<text font-size="31" transform="translate(386.3,911.3) scale(1.290,1)">19</text>
<text font-size="31" transform="translate(342.2,959.5) scale(1.290,1)">20</text>
<text font-size="31" transform="translate(309.1,995.3) scale(1.290,1)">21</text>
<text font-size="31" transform="translate(279.2,1043.5) scale(1.290,1)">22</text>
<text font-size="31" transform="translate(226.2,1094.6) scale(1.290,1)">18</text>
<text font-size="31" transform="translate(176.2,1153.0) scale(1.290,1)">23</text>
<text font-size="31" transform="translate(315.6,1372.5) scale(1.290,1)">3</text>
<text font-size="31" transform="translate(405.4,1421.2) scale(1.290,1)">6</text>
<text font-size="31" transform="translate(467.6,1458.2) scale(1.290,1)">4</text>
<text font-size="31" transform="translate(531.8,1495.1) scale(1.290,1)">2</text>
<text font-size="31" transform="translate(181.0,1537.2) scale(1.290,1)">6</text>
<text font-size="31" transform="translate(181.4,1606.0) scale(1.290,1)">1</text>
<text font-size="31" transform="translate(181.0,1675.1) scale(1.290,1)">5</text>
<text font-size="31" transform="translate(515.1,1856.8) scale(1.290,1)">11</text>
<text font-size="31" transform="translate(301.7,1944.6) scale(1.290,1)">12</text>
<text font-size="31" transform="translate(681.5,2110.8) scale(1.290,1)">10</text>
<text font-size="31" transform="translate(634.2,1648.6) scale(1.290,1)">14</text>
<text font-size="31" transform="translate(1058.7,2122.9) scale(1.290,1)">13</text>
<text font-size="31" transform="translate(660.0,1326.4) scale(1.290,1)">17</text>
<text font-size="31" transform="translate(746.6,1376.2) scale(1.290,1)">15</text>
<text font-size="31" transform="translate(593.5,1474.4) scale(1.290,1)">16</text>
<text font-size="31" transform="translate(1517.4,1340.0) scale(1.290,1)">9</text>
<text font-size="31" transform="translate(935.4,1135.7) scale(1.290,1)">27</text>
</g>
<g id="leaders" class="l">
<path d="M1439.3,255.2L1401.3,320.6M1524.5,418.0L1518.4,453.0M1211.0,488.0L1226.3,440.8M1453.0,625.0L1478.9,596.0M1491.0,652.3L1506.3,609.7M856.6,546.5L809.1,612.9M929.4,582.8L896.1,643.0M527.5,867.7L533.8,791.7M608.2,899.3L619.2,828.1M681.0,929.4L698.4,878.7M764.8,967.3L856.6,923.0M1129.3,829.0L1140.4,791.0M1348.6,751.5L1345.5,789.5M1037.4,1147.9L1073.2,1091.3M1099.6,1198.1L1192.1,1159.2M1169.4,1249.8L1273.2,1208.3M1373.2,1029.0L1431.7,993.2M1437.4,1068.7L1518.5,1044.2M1509.0,1206.4L1475.1,1217.7M992.0,1015.8L965.7,1100.8M423.6,917.4L456.5,975.8M383.5,964.9L428.5,1001.4M354.2,998.9L405.4,1029.4M323.8,1046.4L377.4,1078.1M273.9,1093.9L331.1,1118.2M215.5,1157.2L270.3,1205.9M326.8,1379.7L326.8,1450.7M413.8,1430.6L401.7,1505.6M475.4,1465.4L460.7,1537.7M537.0,1501.6L515.6,1571.2M208.9,1528.3L265.2,1541.7M208.9,1599.3L274.5,1604.7M208.9,1663.6L269.2,1654.2M535.6,1865.4L533.9,1926.3M349.4,1949.7L406.9,1981.7M673.2,2096.7L615.7,2079.7M664.5,1653.1L683.9,1711.7M1082.4,2094.5L1098.2,1981.9M678.3,1333.5L686.2,1426.1M773.3,1384.2L789.9,1465.7M636.4,1477.5L711.6,1537.7M1510.0,1278.0L1484.2,1291.4M1507.0,1341.1L1464.5,1359.7"/>
</g>
</svg>
</body></html>
